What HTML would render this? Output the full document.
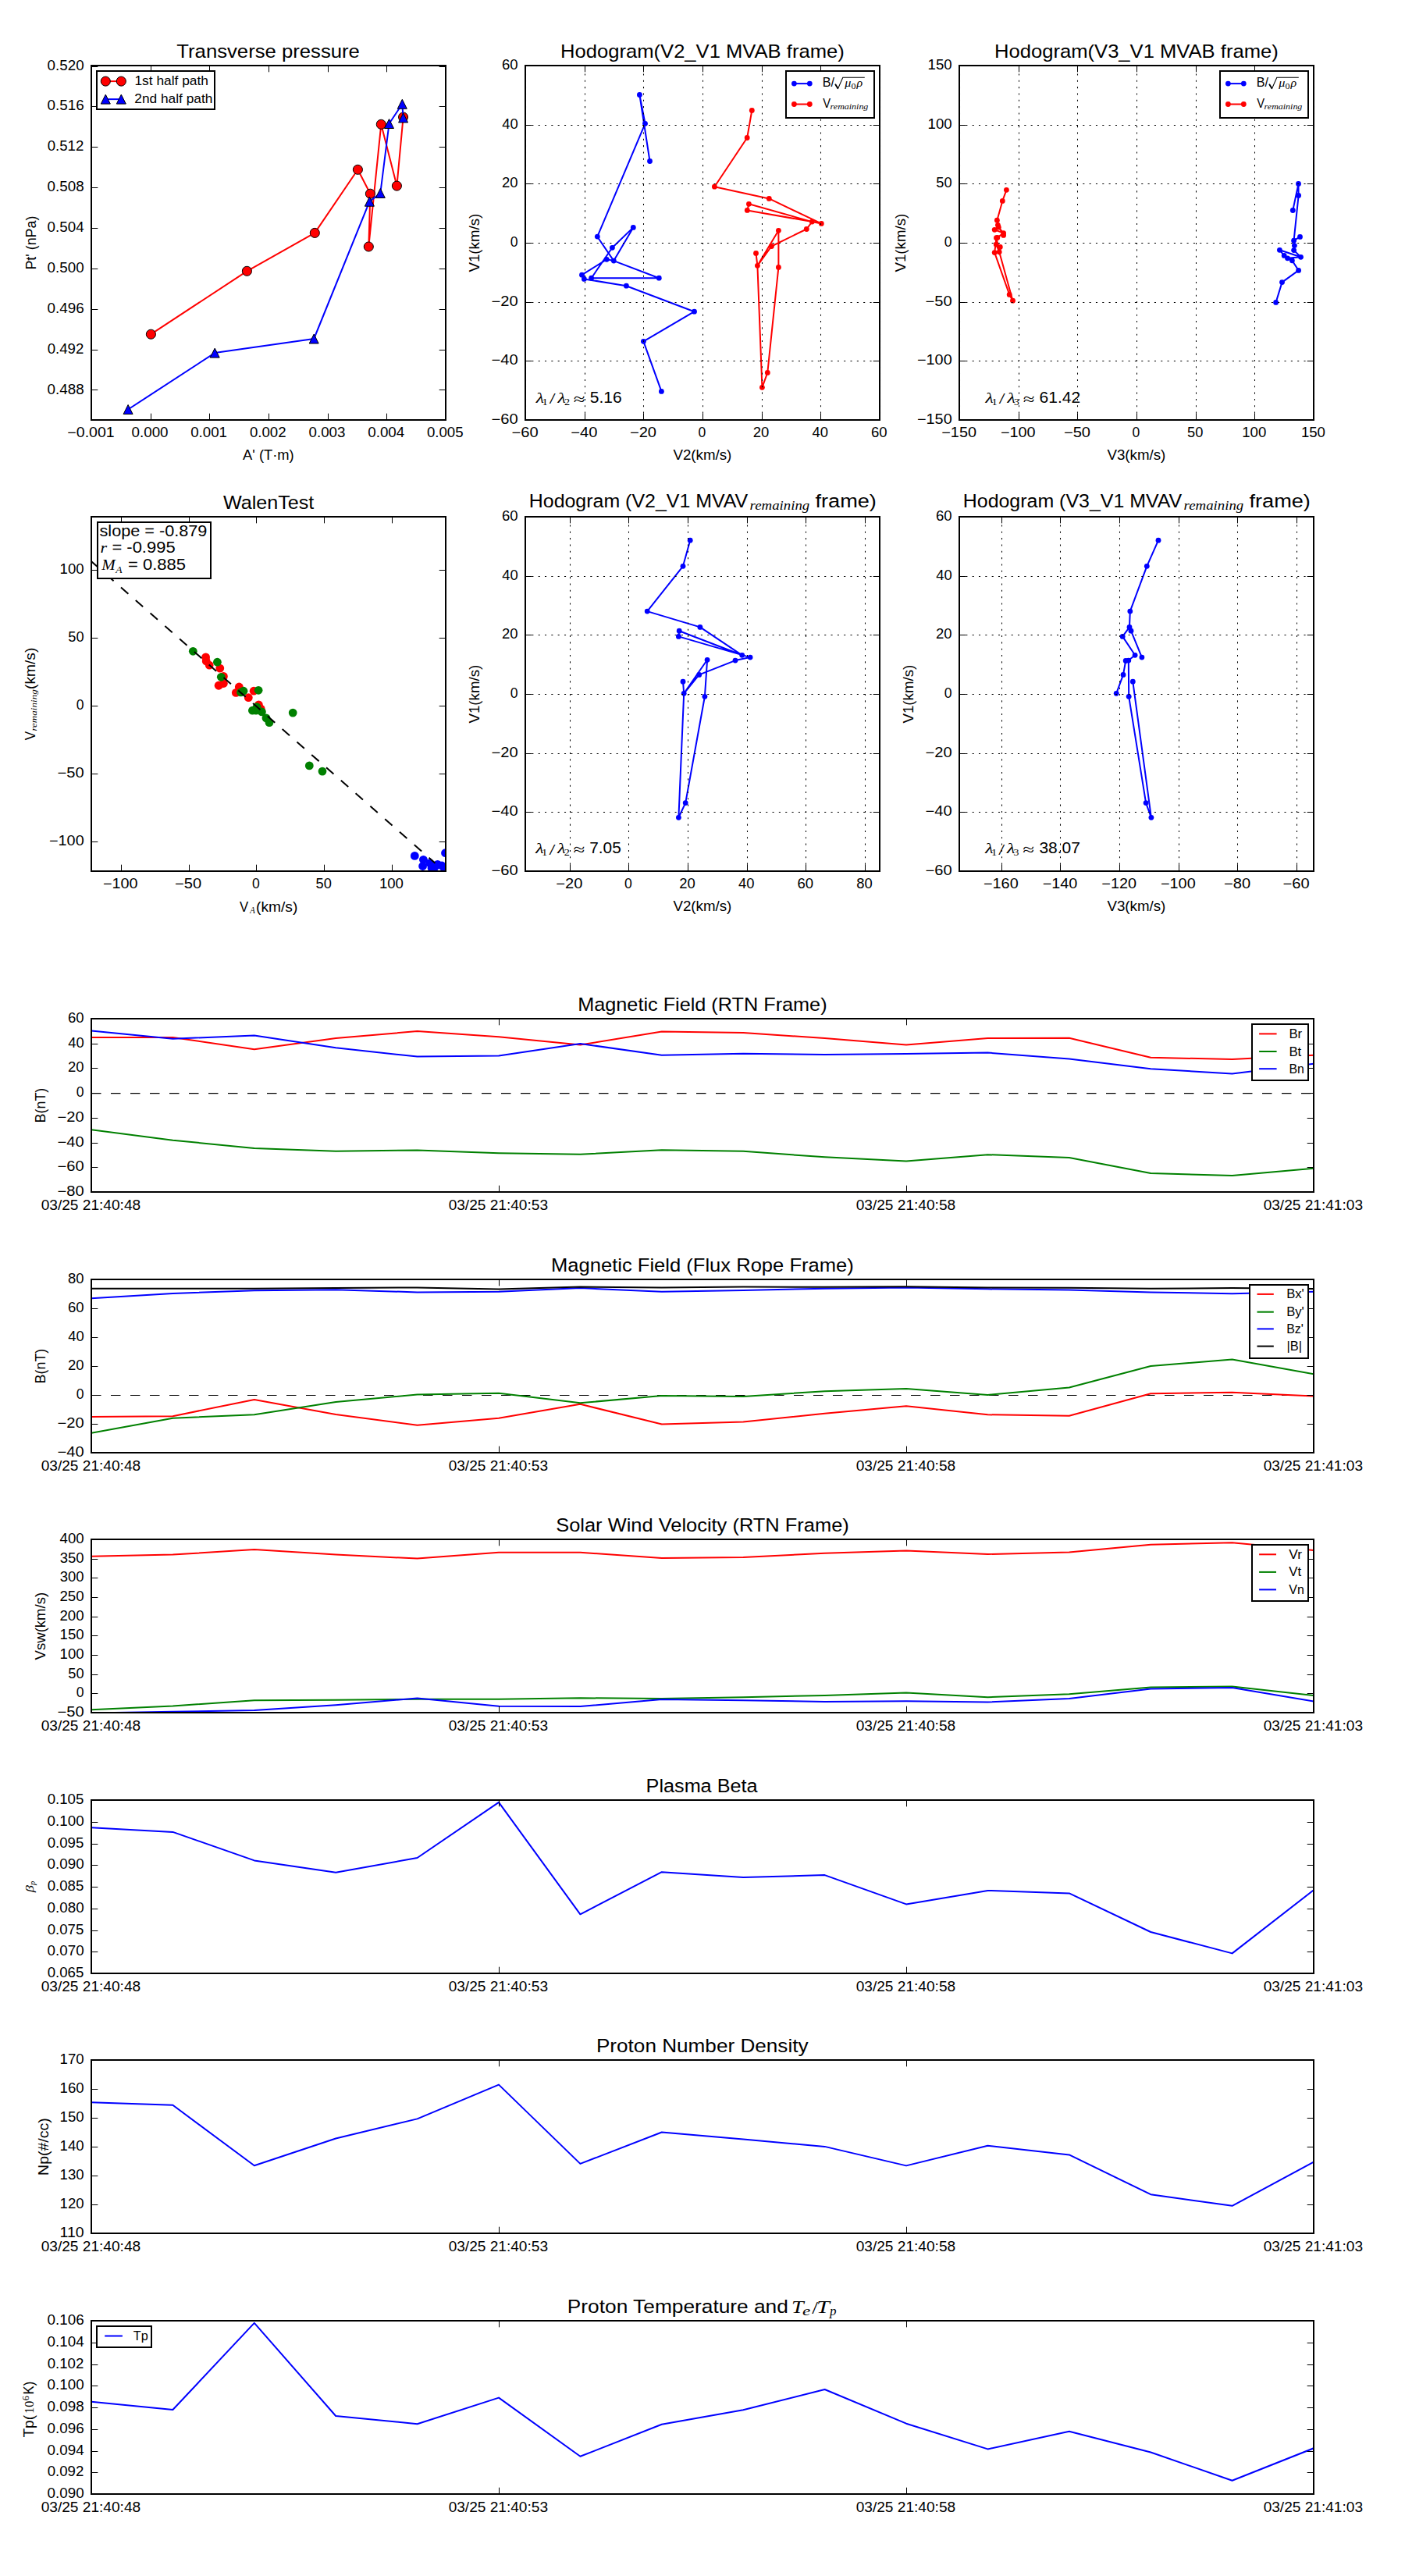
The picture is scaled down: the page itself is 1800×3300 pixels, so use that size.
<!DOCTYPE html><html><head><meta charset="utf-8"><title>MHD analysis figure</title><style>html,body{margin:0;padding:0;background:#fff;font-family:"Liberation Sans",sans-serif;}svg{display:block;}</style></head><body><svg xml:space="preserve" width="1800" height="3300" viewBox="0 0 1800 3300" font-family="Liberation Sans" fill="#000"><defs><clipPath id="c1"><rect x="117" y="84" width="454" height="454"/></clipPath><clipPath id="c2"><rect x="673" y="84" width="454" height="454"/></clipPath><clipPath id="c3"><rect x="1229" y="84" width="454" height="454"/></clipPath><clipPath id="c4"><rect x="117" y="662" width="454" height="454"/></clipPath><clipPath id="c5"><rect x="673" y="662" width="454" height="454"/></clipPath><clipPath id="c6"><rect x="1229" y="662" width="454" height="454"/></clipPath><clipPath id="c7"><rect x="117" y="1305" width="1566" height="222"/></clipPath><clipPath id="c8"><rect x="117" y="1639" width="1566" height="222"/></clipPath><clipPath id="c9"><rect x="117" y="1972" width="1566" height="222"/></clipPath><clipPath id="c10"><rect x="117" y="2306" width="1566" height="222"/></clipPath><clipPath id="c11"><rect x="117" y="2639" width="1566" height="222"/></clipPath><clipPath id="c12"><rect x="117" y="2973" width="1566" height="222"/></clipPath></defs><rect x="0" y="0" width="1800" height="3300" fill="#fff" stroke="none"/><polyline points="193.4,428.2 316.4,347.3 403.3,298.4 458.4,217.3 474.4,248.2 472.3,316 488.3,159.3 508.4,238.1 516.6,150" fill="none" stroke="#ff0000" stroke-width="2" stroke-linejoin="round" clip-path="url(#c1)"/>
<circle cx="193.4" cy="428.2" r="6.05" fill="#ff0000" stroke="#000000" stroke-width="1" clip-path="url(#c1)"/>
<circle cx="316.4" cy="347.3" r="6.05" fill="#ff0000" stroke="#000000" stroke-width="1" clip-path="url(#c1)"/>
<circle cx="403.3" cy="298.4" r="6.05" fill="#ff0000" stroke="#000000" stroke-width="1" clip-path="url(#c1)"/>
<circle cx="458.4" cy="217.3" r="6.05" fill="#ff0000" stroke="#000000" stroke-width="1" clip-path="url(#c1)"/>
<circle cx="474.4" cy="248.2" r="6.05" fill="#ff0000" stroke="#000000" stroke-width="1" clip-path="url(#c1)"/>
<circle cx="472.3" cy="316" r="6.05" fill="#ff0000" stroke="#000000" stroke-width="1" clip-path="url(#c1)"/>
<circle cx="488.3" cy="159.3" r="6.05" fill="#ff0000" stroke="#000000" stroke-width="1" clip-path="url(#c1)"/>
<circle cx="508.4" cy="238.1" r="6.05" fill="#ff0000" stroke="#000000" stroke-width="1" clip-path="url(#c1)"/>
<circle cx="516.6" cy="150" r="6.05" fill="#ff0000" stroke="#000000" stroke-width="1" clip-path="url(#c1)"/>
<polyline points="164.1,524.5 275.2,452.1 402.2,434 473.4,258.2 487.3,247.5 498.5,158.5 515.3,133.3 516.6,150.9" fill="none" stroke="#0000ff" stroke-width="2" stroke-linejoin="round" clip-path="url(#c1)"/>
<polygon points="164.1,518.5 158.1,530.5 170.1,530.5" fill="#0000ff" stroke="#000000" stroke-width="1" stroke-linejoin="miter" clip-path="url(#c1)"/>
<polygon points="275.2,446.1 269.2,458.1 281.2,458.1" fill="#0000ff" stroke="#000000" stroke-width="1" stroke-linejoin="miter" clip-path="url(#c1)"/>
<polygon points="402.2,428 396.2,440 408.2,440" fill="#0000ff" stroke="#000000" stroke-width="1" stroke-linejoin="miter" clip-path="url(#c1)"/>
<polygon points="473.4,252.2 467.4,264.2 479.4,264.2" fill="#0000ff" stroke="#000000" stroke-width="1" stroke-linejoin="miter" clip-path="url(#c1)"/>
<polygon points="487.3,241.5 481.3,253.5 493.3,253.5" fill="#0000ff" stroke="#000000" stroke-width="1" stroke-linejoin="miter" clip-path="url(#c1)"/>
<polygon points="498.5,152.5 492.5,164.5 504.5,164.5" fill="#0000ff" stroke="#000000" stroke-width="1" stroke-linejoin="miter" clip-path="url(#c1)"/>
<polygon points="515.3,127.3 509.3,139.3 521.3,139.3" fill="#0000ff" stroke="#000000" stroke-width="1" stroke-linejoin="miter" clip-path="url(#c1)"/>
<polygon points="516.6,144.9 510.6,156.9 522.6,156.9" fill="#0000ff" stroke="#000000" stroke-width="1" stroke-linejoin="miter" clip-path="url(#c1)"/>
<rect x="117" y="84" width="454" height="454" fill="none" stroke="#000" stroke-width="2"/>
<line x1="117.5" y1="538" x2="117.5" y2="529.67" stroke="#000" stroke-width="1.04"/>
<line x1="117.5" y1="84" x2="117.5" y2="92.33" stroke="#000" stroke-width="1.04"/>
<text x="86.36" y="560" font-size="17.5" textLength="60.3" lengthAdjust="spacingAndGlyphs">−0.001</text>
<line x1="193.5" y1="538" x2="193.5" y2="529.67" stroke="#000" stroke-width="1.04"/>
<line x1="193.5" y1="84" x2="193.5" y2="92.33" stroke="#000" stroke-width="1.04"/>
<text x="168.57" y="560" font-size="17.5" textLength="46.99" lengthAdjust="spacingAndGlyphs">0.000</text>
<line x1="268.5" y1="538" x2="268.5" y2="529.67" stroke="#000" stroke-width="1.04"/>
<line x1="268.5" y1="84" x2="268.5" y2="92.33" stroke="#000" stroke-width="1.04"/>
<text x="244.24" y="560" font-size="17.5" textLength="46.73" lengthAdjust="spacingAndGlyphs">0.001</text>
<line x1="344.5" y1="538" x2="344.5" y2="529.67" stroke="#000" stroke-width="1.04"/>
<line x1="344.5" y1="84" x2="344.5" y2="92.33" stroke="#000" stroke-width="1.04"/>
<text x="319.91" y="560" font-size="17.5" textLength="46.62" lengthAdjust="spacingAndGlyphs">0.002</text>
<line x1="420.5" y1="538" x2="420.5" y2="529.67" stroke="#000" stroke-width="1.04"/>
<line x1="420.5" y1="84" x2="420.5" y2="92.33" stroke="#000" stroke-width="1.04"/>
<text x="395.57" y="560" font-size="17.5" textLength="46.84" lengthAdjust="spacingAndGlyphs">0.003</text>
<line x1="495.5" y1="538" x2="495.5" y2="529.67" stroke="#000" stroke-width="1.04"/>
<line x1="495.5" y1="84" x2="495.5" y2="92.33" stroke="#000" stroke-width="1.04"/>
<text x="471.24" y="560" font-size="17.5" textLength="46.97" lengthAdjust="spacingAndGlyphs">0.004</text>
<line x1="571.5" y1="538" x2="571.5" y2="529.67" stroke="#000" stroke-width="1.04"/>
<line x1="571.5" y1="84" x2="571.5" y2="92.33" stroke="#000" stroke-width="1.04"/>
<text x="546.91" y="560" font-size="17.5" textLength="46.68" lengthAdjust="spacingAndGlyphs">0.005</text>
<line x1="117" y1="499.5" x2="125.33" y2="499.5" stroke="#000" stroke-width="1.04"/>
<line x1="571" y1="499.5" x2="562.67" y2="499.5" stroke="#000" stroke-width="1.04"/>
<text x="60.64" y="504.5" font-size="17.5" textLength="47.04" lengthAdjust="spacingAndGlyphs">0.488</text>
<line x1="117" y1="448.5" x2="125.33" y2="448.5" stroke="#000" stroke-width="1.04"/>
<line x1="571" y1="448.5" x2="562.67" y2="448.5" stroke="#000" stroke-width="1.04"/>
<text x="60.65" y="452.62" font-size="17.5" textLength="46.62" lengthAdjust="spacingAndGlyphs">0.492</text>
<line x1="117" y1="396.5" x2="125.33" y2="396.5" stroke="#000" stroke-width="1.04"/>
<line x1="571" y1="396.5" x2="562.67" y2="396.5" stroke="#000" stroke-width="1.04"/>
<text x="60.64" y="400.75" font-size="17.5" textLength="47.14" lengthAdjust="spacingAndGlyphs">0.496</text>
<line x1="117" y1="344.5" x2="125.33" y2="344.5" stroke="#000" stroke-width="1.04"/>
<line x1="571" y1="344.5" x2="562.67" y2="344.5" stroke="#000" stroke-width="1.04"/>
<text x="60.64" y="348.87" font-size="17.5" textLength="46.99" lengthAdjust="spacingAndGlyphs">0.500</text>
<line x1="117" y1="292.5" x2="125.33" y2="292.5" stroke="#000" stroke-width="1.04"/>
<line x1="571" y1="292.5" x2="562.67" y2="292.5" stroke="#000" stroke-width="1.04"/>
<text x="60.64" y="297" font-size="17.5" textLength="46.97" lengthAdjust="spacingAndGlyphs">0.504</text>
<line x1="117" y1="240.5" x2="125.33" y2="240.5" stroke="#000" stroke-width="1.04"/>
<line x1="571" y1="240.5" x2="562.67" y2="240.5" stroke="#000" stroke-width="1.04"/>
<text x="60.64" y="245.12" font-size="17.5" textLength="47.04" lengthAdjust="spacingAndGlyphs">0.508</text>
<line x1="117" y1="188.5" x2="125.33" y2="188.5" stroke="#000" stroke-width="1.04"/>
<line x1="571" y1="188.5" x2="562.67" y2="188.5" stroke="#000" stroke-width="1.04"/>
<text x="60.65" y="193.25" font-size="17.5" textLength="46.62" lengthAdjust="spacingAndGlyphs">0.512</text>
<line x1="117" y1="136.5" x2="125.33" y2="136.5" stroke="#000" stroke-width="1.04"/>
<line x1="571" y1="136.5" x2="562.67" y2="136.5" stroke="#000" stroke-width="1.04"/>
<text x="60.64" y="141.38" font-size="17.5" textLength="47.14" lengthAdjust="spacingAndGlyphs">0.516</text>
<line x1="117" y1="85.5" x2="125.33" y2="85.5" stroke="#000" stroke-width="1.04"/>
<line x1="571" y1="85.5" x2="562.67" y2="85.5" stroke="#000" stroke-width="1.04"/>
<text x="60.64" y="89.5" font-size="17.5" textLength="46.99" lengthAdjust="spacingAndGlyphs">0.520</text>
<rect x="124" y="91" width="151" height="49" fill="#fff" stroke="#000" stroke-width="2"/>
<line x1="135.3" y1="104.1" x2="155.3" y2="104.1" stroke="#ff0000" stroke-width="2"/>
<circle cx="135.3" cy="104.1" r="6.05" fill="#ff0000" stroke="#000000" stroke-width="1"/>
<circle cx="155.3" cy="104.1" r="6.05" fill="#ff0000" stroke="#000000" stroke-width="1"/>
<line x1="135.3" y1="127.1" x2="155.3" y2="127.1" stroke="#0000ff" stroke-width="2"/>
<polygon points="135.3,121.1 129.3,133.1 141.3,133.1" fill="#0000ff" stroke="#000" stroke-width="1" stroke-linejoin="miter"/>
<polygon points="155.3,121.1 149.3,133.1 161.3,133.1" fill="#0000ff" stroke="#000" stroke-width="1" stroke-linejoin="miter"/>
<text x="172.42" y="108.6" font-size="15.75" textLength="94.55" lengthAdjust="spacingAndGlyphs">1st half path</text>
<text x="172.33" y="131.6" font-size="15.75" textLength="99.98" lengthAdjust="spacingAndGlyphs">2nd half path</text>
<text x="226.3" y="73.5" font-size="24.5" textLength="234.62" lengthAdjust="spacingAndGlyphs">Transverse pressure</text>
<text x="311.09" y="588.8" font-size="17.5" textLength="65.63" lengthAdjust="spacingAndGlyphs">A' (T·m)</text>
<g transform="translate(45.78 311) rotate(-90)"><text x="-34.61" y="0" font-size="17.5" textLength="69.07" lengthAdjust="spacingAndGlyphs">Pt' (nPa)</text></g>
<polyline points="832.5,206.5 819.4,121.5 826.5,158.3 765.3,303.2 786.3,334.1 844.3,356.2 757.6,356.2 784.4,317.3 811.3,291.4 786.3,334.1 777.2,332.3 745.5,352.2 748.4,357.4 802.4,366.2 889.5,399.2 824.4,437.3 847.4,501.4" fill="none" stroke="#0000ff" stroke-width="2" stroke-linejoin="round" clip-path="url(#c2)"/>
<circle cx="819.4" cy="121.5" r="3.4" fill="#0000ff" clip-path="url(#c2)"/>
<circle cx="826.5" cy="158.3" r="3.4" fill="#0000ff" clip-path="url(#c2)"/>
<circle cx="832.5" cy="206.5" r="3.4" fill="#0000ff" clip-path="url(#c2)"/>
<circle cx="765.3" cy="303.2" r="3.4" fill="#0000ff" clip-path="url(#c2)"/>
<circle cx="811.3" cy="291.4" r="3.4" fill="#0000ff" clip-path="url(#c2)"/>
<circle cx="784.4" cy="317.3" r="3.4" fill="#0000ff" clip-path="url(#c2)"/>
<circle cx="777.2" cy="332.3" r="3.4" fill="#0000ff" clip-path="url(#c2)"/>
<circle cx="786.3" cy="334.1" r="3.4" fill="#0000ff" clip-path="url(#c2)"/>
<circle cx="745.5" cy="352.2" r="3.4" fill="#0000ff" clip-path="url(#c2)"/>
<circle cx="748.4" cy="357.4" r="3.4" fill="#0000ff" clip-path="url(#c2)"/>
<circle cx="757.6" cy="356.2" r="3.4" fill="#0000ff" clip-path="url(#c2)"/>
<circle cx="844.3" cy="356.2" r="3.4" fill="#0000ff" clip-path="url(#c2)"/>
<circle cx="802.4" cy="366.2" r="3.4" fill="#0000ff" clip-path="url(#c2)"/>
<circle cx="889.5" cy="399.2" r="3.4" fill="#0000ff" clip-path="url(#c2)"/>
<circle cx="824.4" cy="437.3" r="3.4" fill="#0000ff" clip-path="url(#c2)"/>
<circle cx="847.4" cy="501.4" r="3.4" fill="#0000ff" clip-path="url(#c2)"/>
<polyline points="963.3,141.5 957.2,176.5 915.4,239.2 985.3,254.4 1052.3,286.4 1040.4,284.1 959.4,261.3 957.3,269.4 1040.4,284.1 1033.3,293.5 988.4,315.5 970.4,340.3 997.4,295.3 997.4,342.4 983.3,477.4 976.4,496.3 970.4,340.3 968.5,324.4" fill="none" stroke="#ff0000" stroke-width="2" stroke-linejoin="round" clip-path="url(#c2)"/>
<circle cx="963.3" cy="141.5" r="3.4" fill="#ff0000" clip-path="url(#c2)"/>
<circle cx="957.2" cy="176.5" r="3.4" fill="#ff0000" clip-path="url(#c2)"/>
<circle cx="915.4" cy="239.2" r="3.4" fill="#ff0000" clip-path="url(#c2)"/>
<circle cx="985.3" cy="254.4" r="3.4" fill="#ff0000" clip-path="url(#c2)"/>
<circle cx="959.4" cy="261.3" r="3.4" fill="#ff0000" clip-path="url(#c2)"/>
<circle cx="957.3" cy="269.4" r="3.4" fill="#ff0000" clip-path="url(#c2)"/>
<circle cx="1040.4" cy="284.1" r="3.4" fill="#ff0000" clip-path="url(#c2)"/>
<circle cx="1052.3" cy="286.4" r="3.4" fill="#ff0000" clip-path="url(#c2)"/>
<circle cx="1033.3" cy="293.5" r="3.4" fill="#ff0000" clip-path="url(#c2)"/>
<circle cx="997.4" cy="295.3" r="3.4" fill="#ff0000" clip-path="url(#c2)"/>
<circle cx="988.4" cy="315.5" r="3.4" fill="#ff0000" clip-path="url(#c2)"/>
<circle cx="968.5" cy="324.4" r="3.4" fill="#ff0000" clip-path="url(#c2)"/>
<circle cx="970.4" cy="340.3" r="3.4" fill="#ff0000" clip-path="url(#c2)"/>
<circle cx="997.4" cy="342.4" r="3.4" fill="#ff0000" clip-path="url(#c2)"/>
<circle cx="983.3" cy="477.4" r="3.4" fill="#ff0000" clip-path="url(#c2)"/>
<circle cx="976.4" cy="496.3" r="3.4" fill="#ff0000" clip-path="url(#c2)"/>
<line x1="673.5" y1="538" x2="673.5" y2="84" stroke="#000" stroke-width="1.04" stroke-dasharray="2.08 6.25"/>
<line x1="673.5" y1="538" x2="673.5" y2="529.67" stroke="#000" stroke-width="1.04"/>
<line x1="673.5" y1="84" x2="673.5" y2="92.33" stroke="#000" stroke-width="1.04"/>
<text x="655.58" y="560" font-size="17.5" textLength="34.09" lengthAdjust="spacingAndGlyphs">−60</text>
<line x1="749.5" y1="538" x2="749.5" y2="84" stroke="#000" stroke-width="1.04" stroke-dasharray="2.08 6.25"/>
<line x1="749.5" y1="538" x2="749.5" y2="529.67" stroke="#000" stroke-width="1.04"/>
<line x1="749.5" y1="84" x2="749.5" y2="92.33" stroke="#000" stroke-width="1.04"/>
<text x="731.25" y="560" font-size="17.5" textLength="34.09" lengthAdjust="spacingAndGlyphs">−40</text>
<line x1="824.5" y1="538" x2="824.5" y2="84" stroke="#000" stroke-width="1.04" stroke-dasharray="2.08 6.25"/>
<line x1="824.5" y1="538" x2="824.5" y2="529.67" stroke="#000" stroke-width="1.04"/>
<line x1="824.5" y1="84" x2="824.5" y2="92.33" stroke="#000" stroke-width="1.04"/>
<text x="806.92" y="560" font-size="17.5" textLength="34.09" lengthAdjust="spacingAndGlyphs">−20</text>
<line x1="900.5" y1="538" x2="900.5" y2="84" stroke="#000" stroke-width="1.04" stroke-dasharray="2.08 6.25"/>
<line x1="900.5" y1="538" x2="900.5" y2="529.67" stroke="#000" stroke-width="1.04"/>
<line x1="900.5" y1="84" x2="900.5" y2="92.33" stroke="#000" stroke-width="1.04"/>
<text x="894.51" y="560" font-size="17.5" textLength="9.77" lengthAdjust="spacingAndGlyphs">0</text>
<line x1="976.5" y1="538" x2="976.5" y2="84" stroke="#000" stroke-width="1.04" stroke-dasharray="2.08 6.25"/>
<line x1="976.5" y1="538" x2="976.5" y2="529.67" stroke="#000" stroke-width="1.04"/>
<line x1="976.5" y1="84" x2="976.5" y2="92.33" stroke="#000" stroke-width="1.04"/>
<text x="964.75" y="560" font-size="17.5" textLength="20.53" lengthAdjust="spacingAndGlyphs">20</text>
<line x1="1051.5" y1="538" x2="1051.5" y2="84" stroke="#000" stroke-width="1.04" stroke-dasharray="2.08 6.25"/>
<line x1="1051.5" y1="538" x2="1051.5" y2="529.67" stroke="#000" stroke-width="1.04"/>
<line x1="1051.5" y1="84" x2="1051.5" y2="92.33" stroke="#000" stroke-width="1.04"/>
<text x="1040.52" y="560" font-size="17.5" textLength="20.43" lengthAdjust="spacingAndGlyphs">40</text>
<line x1="1127.5" y1="538" x2="1127.5" y2="84" stroke="#000" stroke-width="1.04" stroke-dasharray="2.08 6.25"/>
<line x1="1127.5" y1="538" x2="1127.5" y2="529.67" stroke="#000" stroke-width="1.04"/>
<line x1="1127.5" y1="84" x2="1127.5" y2="92.33" stroke="#000" stroke-width="1.04"/>
<text x="1116.02" y="560" font-size="17.5" textLength="20.61" lengthAdjust="spacingAndGlyphs">60</text>
<line x1="673" y1="538.5" x2="1127" y2="538.5" stroke="#000" stroke-width="1.04" stroke-dasharray="2.08 6.25"/>
<line x1="673" y1="538.5" x2="681.33" y2="538.5" stroke="#000" stroke-width="1.04"/>
<line x1="1127" y1="538.5" x2="1118.67" y2="538.5" stroke="#000" stroke-width="1.04"/>
<text x="629.59" y="543" font-size="17.5" textLength="34.09" lengthAdjust="spacingAndGlyphs">−60</text>
<line x1="673" y1="462.5" x2="1127" y2="462.5" stroke="#000" stroke-width="1.04" stroke-dasharray="2.08 6.25"/>
<line x1="673" y1="462.5" x2="681.33" y2="462.5" stroke="#000" stroke-width="1.04"/>
<line x1="1127" y1="462.5" x2="1118.67" y2="462.5" stroke="#000" stroke-width="1.04"/>
<text x="629.59" y="467.33" font-size="17.5" textLength="34.09" lengthAdjust="spacingAndGlyphs">−40</text>
<line x1="673" y1="387.5" x2="1127" y2="387.5" stroke="#000" stroke-width="1.04" stroke-dasharray="2.08 6.25"/>
<line x1="673" y1="387.5" x2="681.33" y2="387.5" stroke="#000" stroke-width="1.04"/>
<line x1="1127" y1="387.5" x2="1118.67" y2="387.5" stroke="#000" stroke-width="1.04"/>
<text x="629.59" y="391.67" font-size="17.5" textLength="34.09" lengthAdjust="spacingAndGlyphs">−20</text>
<line x1="673" y1="311.5" x2="1127" y2="311.5" stroke="#000" stroke-width="1.04" stroke-dasharray="2.08 6.25"/>
<line x1="673" y1="311.5" x2="681.33" y2="311.5" stroke="#000" stroke-width="1.04"/>
<line x1="1127" y1="311.5" x2="1118.67" y2="311.5" stroke="#000" stroke-width="1.04"/>
<text x="653.81" y="316" font-size="17.5" textLength="9.77" lengthAdjust="spacingAndGlyphs">0</text>
<line x1="673" y1="235.5" x2="1127" y2="235.5" stroke="#000" stroke-width="1.04" stroke-dasharray="2.08 6.25"/>
<line x1="673" y1="235.5" x2="681.33" y2="235.5" stroke="#000" stroke-width="1.04"/>
<line x1="1127" y1="235.5" x2="1118.67" y2="235.5" stroke="#000" stroke-width="1.04"/>
<text x="643.08" y="240.33" font-size="17.5" textLength="20.53" lengthAdjust="spacingAndGlyphs">20</text>
<line x1="673" y1="160.5" x2="1127" y2="160.5" stroke="#000" stroke-width="1.04" stroke-dasharray="2.08 6.25"/>
<line x1="673" y1="160.5" x2="681.33" y2="160.5" stroke="#000" stroke-width="1.04"/>
<line x1="1127" y1="160.5" x2="1118.67" y2="160.5" stroke="#000" stroke-width="1.04"/>
<text x="643.18" y="164.67" font-size="17.5" textLength="20.43" lengthAdjust="spacingAndGlyphs">40</text>
<line x1="673" y1="84.5" x2="1127" y2="84.5" stroke="#000" stroke-width="1.04" stroke-dasharray="2.08 6.25"/>
<line x1="673" y1="84.5" x2="681.33" y2="84.5" stroke="#000" stroke-width="1.04"/>
<line x1="1127" y1="84.5" x2="1118.67" y2="84.5" stroke="#000" stroke-width="1.04"/>
<text x="643.01" y="89" font-size="17.5" textLength="20.61" lengthAdjust="spacingAndGlyphs">60</text>
<rect x="673" y="84" width="454" height="454" fill="none" stroke="#000" stroke-width="2"/>
<rect x="1007" y="91" width="113" height="60" fill="#fff" stroke="#000" stroke-width="2"/>
<line x1="1017.4" y1="107.1" x2="1037.3" y2="107.1" stroke="#0000ff" stroke-width="2"/>
<circle cx="1017.4" cy="107.1" r="3.4" fill="#0000ff"/>
<circle cx="1037.3" cy="107.1" r="3.4" fill="#0000ff"/>
<line x1="1017.4" y1="133.5" x2="1037.3" y2="133.5" stroke="#ff0000" stroke-width="2"/>
<circle cx="1017.4" cy="133.5" r="3.4" fill="#ff0000"/>
<circle cx="1037.3" cy="133.5" r="3.4" fill="#ff0000"/>
<text x="1053.78" y="111" font-size="15.75" textLength="15.22" lengthAdjust="spacingAndGlyphs">B/</text>
<path d="M1069.9 107.6 L1073.6 113.4 L1079.8 99.2 L1107.8 99.2" fill="none" stroke="#000" stroke-width="1.1" stroke-linejoin="miter"/>
<line x1="1070.2" y1="108" x2="1073.6" y2="113.4" stroke="#000000" stroke-width="1.8"/>
<text x="1082.22" y="110.7" font-size="15.5" textLength="8.12" lengthAdjust="spacingAndGlyphs" font-family="Liberation Serif" font-style="italic">μ</text>
<text x="1090.44" y="113.7" font-size="11" textLength="6.02" lengthAdjust="spacingAndGlyphs" font-family="Liberation Serif">0</text>
<text x="1097.41" y="110.7" font-size="15.5" textLength="7.68" lengthAdjust="spacingAndGlyphs" font-family="Liberation Serif" font-style="italic">ρ</text>
<text x="1054.14" y="137.8" font-size="15.75" textLength="9.83" lengthAdjust="spacingAndGlyphs">V</text>
<text x="1063.62" y="139.9" font-size="11" textLength="48.74" lengthAdjust="spacingAndGlyphs" font-family="Liberation Serif" font-style="italic">remaining</text>
<text x="718" y="73.5" font-size="24.5" textLength="363.76" lengthAdjust="spacingAndGlyphs">Hodogram(V2_V1 MVAB frame)</text>
<text x="862.44" y="588.8" font-size="17.5" textLength="74.89" lengthAdjust="spacingAndGlyphs">V2(km/s)</text>
<g transform="translate(614.32 311) rotate(-90)"><text x="-37.56" y="0" font-size="17.5" textLength="74.89" lengthAdjust="spacingAndGlyphs">V1(km/s)</text></g>
<text x="686.67" y="515.9" font-size="19" textLength="10.21" lengthAdjust="spacingAndGlyphs" font-family="Liberation Serif" font-style="italic">λ</text>
<text x="694.53" y="518.7" font-size="13" textLength="7.24" lengthAdjust="spacingAndGlyphs" font-family="Liberation Serif">1</text>
<text x="703.8" y="517.4" font-size="19" textLength="7.9" lengthAdjust="spacingAndGlyphs" font-family="Liberation Serif">/</text>
<text x="714.58" y="515.9" font-size="19" textLength="10.31" lengthAdjust="spacingAndGlyphs" font-family="Liberation Serif" font-style="italic">λ</text>
<text x="723.08" y="518.7" font-size="13" textLength="7.11" lengthAdjust="spacingAndGlyphs" font-family="Liberation Serif">2</text>
<text x="734.85" y="517.6" font-size="20" textLength="14.84" lengthAdjust="spacingAndGlyphs" font-family="Liberation Serif">≈</text>
<text x="755.86" y="515.9" font-size="19.69" textLength="40.88" lengthAdjust="spacingAndGlyphs">5.16</text>
<polyline points="1289.4,243.3 1284.3,257.4 1277.4,282.2 1278.4,288.3 1285.6,301.4 1285.6,298.6 1279.3,291.2 1274.2,294.3 1285.6,298.6 1277.8,304.4 1276.3,313.2 1280.2,322.8 1276.5,304.7 1274.2,323.6 1293.2,377.4 1297.5,385.2 1280.2,322.8 1281.3,316.5" fill="none" stroke="#ff0000" stroke-width="2" stroke-linejoin="round" clip-path="url(#c3)"/>
<circle cx="1289.4" cy="243.3" r="3.4" fill="#ff0000" clip-path="url(#c3)"/>
<circle cx="1284.3" cy="257.4" r="3.4" fill="#ff0000" clip-path="url(#c3)"/>
<circle cx="1277.4" cy="282.2" r="3.4" fill="#ff0000" clip-path="url(#c3)"/>
<circle cx="1278.4" cy="288.3" r="3.4" fill="#ff0000" clip-path="url(#c3)"/>
<circle cx="1279.3" cy="291.2" r="3.4" fill="#ff0000" clip-path="url(#c3)"/>
<circle cx="1274.2" cy="294.3" r="3.4" fill="#ff0000" clip-path="url(#c3)"/>
<circle cx="1285.6" cy="298.6" r="3.4" fill="#ff0000" clip-path="url(#c3)"/>
<circle cx="1285.6" cy="301.4" r="3.4" fill="#ff0000" clip-path="url(#c3)"/>
<circle cx="1277.8" cy="304.4" r="3.4" fill="#ff0000" clip-path="url(#c3)"/>
<circle cx="1276.5" cy="304.7" r="3.4" fill="#ff0000" clip-path="url(#c3)"/>
<circle cx="1276.3" cy="313.2" r="3.4" fill="#ff0000" clip-path="url(#c3)"/>
<circle cx="1281.3" cy="316.5" r="3.4" fill="#ff0000" clip-path="url(#c3)"/>
<circle cx="1280.2" cy="322.8" r="3.4" fill="#ff0000" clip-path="url(#c3)"/>
<circle cx="1274.2" cy="323.6" r="3.4" fill="#ff0000" clip-path="url(#c3)"/>
<circle cx="1293.2" cy="377.4" r="3.4" fill="#ff0000" clip-path="url(#c3)"/>
<circle cx="1297.5" cy="385.2" r="3.4" fill="#ff0000" clip-path="url(#c3)"/>
<polyline points="1656.3,269.5 1663.5,235.4 1663.6,250.5 1657.6,308.2 1665.5,303.4" fill="none" stroke="#0000ff" stroke-width="2" stroke-linejoin="round" clip-path="url(#c3)"/>
<polyline points="1657.6,308.2 1658.4,314.6 1657.6,320.6 1666.5,329.3 1639.4,320.3 1645.2,327.4 1649.5,330.8 1655.4,333.8 1663.6,346.4 1642.5,361.6 1634.6,387.4" fill="none" stroke="#0000ff" stroke-width="2" stroke-linejoin="round" clip-path="url(#c3)"/>
<polyline points="1649.5,330.8 1666.5,329.3" fill="none" stroke="#0000ff" stroke-width="2" stroke-linejoin="round" clip-path="url(#c3)"/>
<circle cx="1663.5" cy="235.4" r="3.4" fill="#0000ff" clip-path="url(#c3)"/>
<circle cx="1663.6" cy="250.5" r="3.4" fill="#0000ff" clip-path="url(#c3)"/>
<circle cx="1656.3" cy="269.5" r="3.4" fill="#0000ff" clip-path="url(#c3)"/>
<circle cx="1657.6" cy="308.2" r="3.4" fill="#0000ff" clip-path="url(#c3)"/>
<circle cx="1665.5" cy="303.4" r="3.4" fill="#0000ff" clip-path="url(#c3)"/>
<circle cx="1658.4" cy="314.6" r="3.4" fill="#0000ff" clip-path="url(#c3)"/>
<circle cx="1657.6" cy="320.6" r="3.4" fill="#0000ff" clip-path="url(#c3)"/>
<circle cx="1639.4" cy="320.3" r="3.4" fill="#0000ff" clip-path="url(#c3)"/>
<circle cx="1666.5" cy="329.3" r="3.4" fill="#0000ff" clip-path="url(#c3)"/>
<circle cx="1645.2" cy="327.4" r="3.4" fill="#0000ff" clip-path="url(#c3)"/>
<circle cx="1649.5" cy="330.8" r="3.4" fill="#0000ff" clip-path="url(#c3)"/>
<circle cx="1655.4" cy="333.8" r="3.4" fill="#0000ff" clip-path="url(#c3)"/>
<circle cx="1663.6" cy="346.4" r="3.4" fill="#0000ff" clip-path="url(#c3)"/>
<circle cx="1642.5" cy="361.6" r="3.4" fill="#0000ff" clip-path="url(#c3)"/>
<circle cx="1634.6" cy="387.4" r="3.4" fill="#0000ff" clip-path="url(#c3)"/>
<line x1="1229.5" y1="538" x2="1229.5" y2="84" stroke="#000" stroke-width="1.04" stroke-dasharray="2.08 6.25"/>
<line x1="1229.5" y1="538" x2="1229.5" y2="529.67" stroke="#000" stroke-width="1.04"/>
<line x1="1229.5" y1="84" x2="1229.5" y2="92.33" stroke="#000" stroke-width="1.04"/>
<text x="1206.29" y="560" font-size="17.5" textLength="44.67" lengthAdjust="spacingAndGlyphs">−150</text>
<line x1="1305.5" y1="538" x2="1305.5" y2="84" stroke="#000" stroke-width="1.04" stroke-dasharray="2.08 6.25"/>
<line x1="1305.5" y1="538" x2="1305.5" y2="529.67" stroke="#000" stroke-width="1.04"/>
<line x1="1305.5" y1="84" x2="1305.5" y2="92.33" stroke="#000" stroke-width="1.04"/>
<text x="1281.96" y="560" font-size="17.5" textLength="44.67" lengthAdjust="spacingAndGlyphs">−100</text>
<line x1="1380.5" y1="538" x2="1380.5" y2="84" stroke="#000" stroke-width="1.04" stroke-dasharray="2.08 6.25"/>
<line x1="1380.5" y1="538" x2="1380.5" y2="529.67" stroke="#000" stroke-width="1.04"/>
<line x1="1380.5" y1="84" x2="1380.5" y2="92.33" stroke="#000" stroke-width="1.04"/>
<text x="1362.92" y="560" font-size="17.5" textLength="34.09" lengthAdjust="spacingAndGlyphs">−50</text>
<line x1="1456.5" y1="538" x2="1456.5" y2="84" stroke="#000" stroke-width="1.04" stroke-dasharray="2.08 6.25"/>
<line x1="1456.5" y1="538" x2="1456.5" y2="529.67" stroke="#000" stroke-width="1.04"/>
<line x1="1456.5" y1="84" x2="1456.5" y2="92.33" stroke="#000" stroke-width="1.04"/>
<text x="1450.51" y="560" font-size="17.5" textLength="9.77" lengthAdjust="spacingAndGlyphs">0</text>
<line x1="1532.5" y1="538" x2="1532.5" y2="84" stroke="#000" stroke-width="1.04" stroke-dasharray="2.08 6.25"/>
<line x1="1532.5" y1="538" x2="1532.5" y2="529.67" stroke="#000" stroke-width="1.04"/>
<line x1="1532.5" y1="84" x2="1532.5" y2="92.33" stroke="#000" stroke-width="1.04"/>
<text x="1521.02" y="560" font-size="17.5" textLength="20.26" lengthAdjust="spacingAndGlyphs">50</text>
<line x1="1607.5" y1="538" x2="1607.5" y2="84" stroke="#000" stroke-width="1.04" stroke-dasharray="2.08 6.25"/>
<line x1="1607.5" y1="538" x2="1607.5" y2="529.67" stroke="#000" stroke-width="1.04"/>
<line x1="1607.5" y1="84" x2="1607.5" y2="92.33" stroke="#000" stroke-width="1.04"/>
<text x="1591.24" y="560" font-size="17.5" textLength="31.03" lengthAdjust="spacingAndGlyphs">100</text>
<line x1="1683.5" y1="538" x2="1683.5" y2="84" stroke="#000" stroke-width="1.04" stroke-dasharray="2.08 6.25"/>
<line x1="1683.5" y1="538" x2="1683.5" y2="529.67" stroke="#000" stroke-width="1.04"/>
<line x1="1683.5" y1="84" x2="1683.5" y2="92.33" stroke="#000" stroke-width="1.04"/>
<text x="1666.9" y="560" font-size="17.5" textLength="31.03" lengthAdjust="spacingAndGlyphs">150</text>
<line x1="1229" y1="538.5" x2="1683" y2="538.5" stroke="#000" stroke-width="1.04" stroke-dasharray="2.08 6.25"/>
<line x1="1229" y1="538.5" x2="1237.33" y2="538.5" stroke="#000" stroke-width="1.04"/>
<line x1="1683" y1="538.5" x2="1674.67" y2="538.5" stroke="#000" stroke-width="1.04"/>
<text x="1175" y="543" font-size="17.5" textLength="44.67" lengthAdjust="spacingAndGlyphs">−150</text>
<line x1="1229" y1="462.5" x2="1683" y2="462.5" stroke="#000" stroke-width="1.04" stroke-dasharray="2.08 6.25"/>
<line x1="1229" y1="462.5" x2="1237.33" y2="462.5" stroke="#000" stroke-width="1.04"/>
<line x1="1683" y1="462.5" x2="1674.67" y2="462.5" stroke="#000" stroke-width="1.04"/>
<text x="1175" y="467.33" font-size="17.5" textLength="44.67" lengthAdjust="spacingAndGlyphs">−100</text>
<line x1="1229" y1="387.5" x2="1683" y2="387.5" stroke="#000" stroke-width="1.04" stroke-dasharray="2.08 6.25"/>
<line x1="1229" y1="387.5" x2="1237.33" y2="387.5" stroke="#000" stroke-width="1.04"/>
<line x1="1683" y1="387.5" x2="1674.67" y2="387.5" stroke="#000" stroke-width="1.04"/>
<text x="1185.59" y="391.67" font-size="17.5" textLength="34.09" lengthAdjust="spacingAndGlyphs">−50</text>
<line x1="1229" y1="311.5" x2="1683" y2="311.5" stroke="#000" stroke-width="1.04" stroke-dasharray="2.08 6.25"/>
<line x1="1229" y1="311.5" x2="1237.33" y2="311.5" stroke="#000" stroke-width="1.04"/>
<line x1="1683" y1="311.5" x2="1674.67" y2="311.5" stroke="#000" stroke-width="1.04"/>
<text x="1209.81" y="316" font-size="17.5" textLength="9.77" lengthAdjust="spacingAndGlyphs">0</text>
<line x1="1229" y1="235.5" x2="1683" y2="235.5" stroke="#000" stroke-width="1.04" stroke-dasharray="2.08 6.25"/>
<line x1="1229" y1="235.5" x2="1237.33" y2="235.5" stroke="#000" stroke-width="1.04"/>
<line x1="1683" y1="235.5" x2="1674.67" y2="235.5" stroke="#000" stroke-width="1.04"/>
<text x="1199.35" y="240.33" font-size="17.5" textLength="20.26" lengthAdjust="spacingAndGlyphs">50</text>
<line x1="1229" y1="160.5" x2="1683" y2="160.5" stroke="#000" stroke-width="1.04" stroke-dasharray="2.08 6.25"/>
<line x1="1229" y1="160.5" x2="1237.33" y2="160.5" stroke="#000" stroke-width="1.04"/>
<line x1="1683" y1="160.5" x2="1674.67" y2="160.5" stroke="#000" stroke-width="1.04"/>
<text x="1188.6" y="164.67" font-size="17.5" textLength="31.03" lengthAdjust="spacingAndGlyphs">100</text>
<line x1="1229" y1="84.5" x2="1683" y2="84.5" stroke="#000" stroke-width="1.04" stroke-dasharray="2.08 6.25"/>
<line x1="1229" y1="84.5" x2="1237.33" y2="84.5" stroke="#000" stroke-width="1.04"/>
<line x1="1683" y1="84.5" x2="1674.67" y2="84.5" stroke="#000" stroke-width="1.04"/>
<text x="1188.6" y="89" font-size="17.5" textLength="31.03" lengthAdjust="spacingAndGlyphs">150</text>
<rect x="1229" y="84" width="454" height="454" fill="none" stroke="#000" stroke-width="2"/>
<rect x="1563" y="91" width="113" height="60" fill="#fff" stroke="#000" stroke-width="2"/>
<line x1="1573.4" y1="107.1" x2="1593.3" y2="107.1" stroke="#0000ff" stroke-width="2"/>
<circle cx="1573.4" cy="107.1" r="3.4" fill="#0000ff"/>
<circle cx="1593.3" cy="107.1" r="3.4" fill="#0000ff"/>
<line x1="1573.4" y1="133.5" x2="1593.3" y2="133.5" stroke="#ff0000" stroke-width="2"/>
<circle cx="1573.4" cy="133.5" r="3.4" fill="#ff0000"/>
<circle cx="1593.3" cy="133.5" r="3.4" fill="#ff0000"/>
<text x="1609.78" y="111" font-size="15.75" textLength="15.22" lengthAdjust="spacingAndGlyphs">B/</text>
<path d="M1625.9 107.6 L1629.6 113.4 L1635.8 99.2 L1663.8 99.2" fill="none" stroke="#000" stroke-width="1.1" stroke-linejoin="miter"/>
<line x1="1626.2" y1="108" x2="1629.6" y2="113.4" stroke="#000000" stroke-width="1.8"/>
<text x="1638.22" y="110.7" font-size="15.5" textLength="8.12" lengthAdjust="spacingAndGlyphs" font-family="Liberation Serif" font-style="italic">μ</text>
<text x="1646.44" y="113.7" font-size="11" textLength="6.02" lengthAdjust="spacingAndGlyphs" font-family="Liberation Serif">0</text>
<text x="1653.41" y="110.7" font-size="15.5" textLength="7.68" lengthAdjust="spacingAndGlyphs" font-family="Liberation Serif" font-style="italic">ρ</text>
<text x="1610.14" y="137.8" font-size="15.75" textLength="9.83" lengthAdjust="spacingAndGlyphs">V</text>
<text x="1619.62" y="139.9" font-size="11" textLength="48.74" lengthAdjust="spacingAndGlyphs" font-family="Liberation Serif" font-style="italic">remaining</text>
<text x="1274" y="73.5" font-size="24.5" textLength="363.76" lengthAdjust="spacingAndGlyphs">Hodogram(V3_V1 MVAB frame)</text>
<text x="1418.44" y="588.8" font-size="17.5" textLength="74.89" lengthAdjust="spacingAndGlyphs">V3(km/s)</text>
<g transform="translate(1159.71 311) rotate(-90)"><text x="-37.56" y="0" font-size="17.5" textLength="74.89" lengthAdjust="spacingAndGlyphs">V1(km/s)</text></g>
<text x="1262.57" y="515.9" font-size="19" textLength="10.21" lengthAdjust="spacingAndGlyphs" font-family="Liberation Serif" font-style="italic">λ</text>
<text x="1270.43" y="518.7" font-size="13" textLength="7.24" lengthAdjust="spacingAndGlyphs" font-family="Liberation Serif">1</text>
<text x="1279.7" y="517.4" font-size="19" textLength="7.9" lengthAdjust="spacingAndGlyphs" font-family="Liberation Serif">/</text>
<text x="1290.48" y="515.9" font-size="19" textLength="10.31" lengthAdjust="spacingAndGlyphs" font-family="Liberation Serif" font-style="italic">λ</text>
<text x="1298.94" y="518.7" font-size="13" textLength="6.9" lengthAdjust="spacingAndGlyphs" font-family="Liberation Serif">3</text>
<text x="1310.75" y="517.6" font-size="20" textLength="14.84" lengthAdjust="spacingAndGlyphs" font-family="Liberation Serif">≈</text>
<text x="1331.53" y="515.9" font-size="19.69" textLength="52.61" lengthAdjust="spacingAndGlyphs">61.42</text>
<circle cx="263.6" cy="841.9" r="5.4" fill="#ff0000" clip-path="url(#c4)"/>
<circle cx="264.2" cy="847" r="5.4" fill="#ff0000" clip-path="url(#c4)"/>
<circle cx="268.2" cy="852.1" r="5.4" fill="#ff0000" clip-path="url(#c4)"/>
<circle cx="281.8" cy="856.1" r="5.4" fill="#ff0000" clip-path="url(#c4)"/>
<circle cx="286.4" cy="866.4" r="5.4" fill="#ff0000" clip-path="url(#c4)"/>
<circle cx="280.7" cy="877.8" r="5.4" fill="#ff0000" clip-path="url(#c4)"/>
<circle cx="286.4" cy="875.5" r="5.4" fill="#ff0000" clip-path="url(#c4)"/>
<circle cx="280.1" cy="878.3" r="5.4" fill="#ff0000" clip-path="url(#c4)"/>
<circle cx="306.3" cy="880" r="5.4" fill="#ff0000" clip-path="url(#c4)"/>
<circle cx="302.3" cy="887.4" r="5.4" fill="#ff0000" clip-path="url(#c4)"/>
<circle cx="318.3" cy="893.7" r="5.4" fill="#ff0000" clip-path="url(#c4)"/>
<circle cx="325.1" cy="885.2" r="5.4" fill="#ff0000" clip-path="url(#c4)"/>
<circle cx="331.4" cy="902.8" r="5.4" fill="#ff0000" clip-path="url(#c4)"/>
<circle cx="334.2" cy="908" r="5.4" fill="#ff0000" clip-path="url(#c4)"/>
<circle cx="247.3" cy="834.3" r="5.4" fill="#008000" clip-path="url(#c4)"/>
<circle cx="278.4" cy="848.2" r="5.4" fill="#008000" clip-path="url(#c4)"/>
<circle cx="283.3" cy="867.3" r="5.4" fill="#008000" clip-path="url(#c4)"/>
<circle cx="312" cy="885.2" r="5.4" fill="#008000" clip-path="url(#c4)"/>
<circle cx="308.6" cy="886.9" r="5.4" fill="#008000" clip-path="url(#c4)"/>
<circle cx="331.1" cy="884.3" r="5.4" fill="#008000" clip-path="url(#c4)"/>
<circle cx="323.4" cy="910.2" r="5.4" fill="#008000" clip-path="url(#c4)"/>
<circle cx="328" cy="910.2" r="5.4" fill="#008000" clip-path="url(#c4)"/>
<circle cx="329.1" cy="905.7" r="5.4" fill="#008000" clip-path="url(#c4)"/>
<circle cx="335.4" cy="911.9" r="5.4" fill="#008000" clip-path="url(#c4)"/>
<circle cx="341" cy="919.9" r="5.4" fill="#008000" clip-path="url(#c4)"/>
<circle cx="345" cy="925.6" r="5.4" fill="#008000" clip-path="url(#c4)"/>
<circle cx="375.2" cy="913.1" r="5.4" fill="#008000" clip-path="url(#c4)"/>
<circle cx="396.3" cy="980.9" r="5.4" fill="#008000" clip-path="url(#c4)"/>
<circle cx="413" cy="988.1" r="5.4" fill="#008000" clip-path="url(#c4)"/>
<circle cx="531.3" cy="1096.4" r="5.4" fill="#0000ff" clip-path="url(#c4)"/>
<circle cx="542.4" cy="1101.3" r="5.4" fill="#0000ff" clip-path="url(#c4)"/>
<circle cx="541.6" cy="1109.5" r="5.4" fill="#0000ff" clip-path="url(#c4)"/>
<circle cx="550.7" cy="1105.6" r="5.4" fill="#0000ff" clip-path="url(#c4)"/>
<circle cx="557" cy="1110.7" r="5.4" fill="#0000ff" clip-path="url(#c4)"/>
<circle cx="560.6" cy="1107.3" r="5.4" fill="#0000ff" clip-path="url(#c4)"/>
<circle cx="566.1" cy="1109" r="5.4" fill="#0000ff" clip-path="url(#c4)"/>
<circle cx="570.5" cy="1092.7" r="5.4" fill="#0000ff" clip-path="url(#c4)"/>
<circle cx="569" cy="1112" r="5.4" fill="#0000ff" clip-path="url(#c4)"/>
<circle cx="553" cy="1112" r="5.4" fill="#0000ff" clip-path="url(#c4)"/>
<polyline points="117.4,719.5 557.5,1105.8" fill="none" stroke="#000000" stroke-width="2" stroke-linejoin="round" stroke-dasharray="12.5 12.5" clip-path="url(#c4)"/>
<rect x="117" y="662" width="454" height="454" fill="none" stroke="#000" stroke-width="2"/>
<line x1="155.5" y1="1116" x2="155.5" y2="1107.67" stroke="#000" stroke-width="1.04"/>
<line x1="155.5" y1="662" x2="155.5" y2="670.33" stroke="#000" stroke-width="1.04"/>
<text x="131.98" y="1138" font-size="17.5" textLength="44.67" lengthAdjust="spacingAndGlyphs">−100</text>
<line x1="242.5" y1="1116" x2="242.5" y2="1107.67" stroke="#000" stroke-width="1.04"/>
<line x1="242.5" y1="662" x2="242.5" y2="670.33" stroke="#000" stroke-width="1.04"/>
<text x="224.11" y="1138" font-size="17.5" textLength="34.09" lengthAdjust="spacingAndGlyphs">−50</text>
<line x1="328.5" y1="1116" x2="328.5" y2="1107.67" stroke="#000" stroke-width="1.04"/>
<line x1="328.5" y1="662" x2="328.5" y2="670.33" stroke="#000" stroke-width="1.04"/>
<text x="322.88" y="1138" font-size="17.5" textLength="9.77" lengthAdjust="spacingAndGlyphs">0</text>
<line x1="415.5" y1="1116" x2="415.5" y2="1107.67" stroke="#000" stroke-width="1.04"/>
<line x1="415.5" y1="662" x2="415.5" y2="670.33" stroke="#000" stroke-width="1.04"/>
<text x="404.56" y="1138" font-size="17.5" textLength="20.26" lengthAdjust="spacingAndGlyphs">50</text>
<line x1="502.5" y1="1116" x2="502.5" y2="1107.67" stroke="#000" stroke-width="1.04"/>
<line x1="502.5" y1="662" x2="502.5" y2="670.33" stroke="#000" stroke-width="1.04"/>
<text x="485.95" y="1138" font-size="17.5" textLength="31.03" lengthAdjust="spacingAndGlyphs">100</text>
<line x1="117" y1="1078.5" x2="125.33" y2="1078.5" stroke="#000" stroke-width="1.04"/>
<line x1="571" y1="1078.5" x2="562.67" y2="1078.5" stroke="#000" stroke-width="1.04"/>
<text x="63" y="1082.89" font-size="17.5" textLength="44.67" lengthAdjust="spacingAndGlyphs">−100</text>
<line x1="117" y1="991.5" x2="125.33" y2="991.5" stroke="#000" stroke-width="1.04"/>
<line x1="571" y1="991.5" x2="562.67" y2="991.5" stroke="#000" stroke-width="1.04"/>
<text x="73.59" y="995.88" font-size="17.5" textLength="34.09" lengthAdjust="spacingAndGlyphs">−50</text>
<line x1="117" y1="904.5" x2="125.33" y2="904.5" stroke="#000" stroke-width="1.04"/>
<line x1="571" y1="904.5" x2="562.67" y2="904.5" stroke="#000" stroke-width="1.04"/>
<text x="97.81" y="908.88" font-size="17.5" textLength="9.77" lengthAdjust="spacingAndGlyphs">0</text>
<line x1="117" y1="817.5" x2="125.33" y2="817.5" stroke="#000" stroke-width="1.04"/>
<line x1="571" y1="817.5" x2="562.67" y2="817.5" stroke="#000" stroke-width="1.04"/>
<text x="87.35" y="821.87" font-size="17.5" textLength="20.26" lengthAdjust="spacingAndGlyphs">50</text>
<line x1="117" y1="730.5" x2="125.33" y2="730.5" stroke="#000" stroke-width="1.04"/>
<line x1="571" y1="730.5" x2="562.67" y2="730.5" stroke="#000" stroke-width="1.04"/>
<text x="76.6" y="734.87" font-size="17.5" textLength="31.03" lengthAdjust="spacingAndGlyphs">100</text>
<rect x="125" y="669" width="145" height="72" fill="#fff" stroke="#000" stroke-width="2"/>
<text x="127.5" y="686.7" font-size="19.7" textLength="137.83" lengthAdjust="spacingAndGlyphs">slope = -0.879</text>
<text x="128.5" y="708.2" font-size="19.5" textLength="8.63" lengthAdjust="spacingAndGlyphs" font-family="Liberation Serif" font-style="italic">r</text>
<text x="143.43" y="708.2" font-size="19.7" textLength="81.2" lengthAdjust="spacingAndGlyphs">= -0.995</text>
<text x="130.25" y="730.3" font-size="19.5" textLength="17.49" lengthAdjust="spacingAndGlyphs" font-family="Liberation Serif" font-style="italic">M</text>
<text x="148.24" y="733.6" font-size="13.5" textLength="8.31" lengthAdjust="spacingAndGlyphs" font-family="Liberation Serif" font-style="italic">A</text>
<text x="164.03" y="730.3" font-size="19.7" textLength="73.9" lengthAdjust="spacingAndGlyphs">= 0.885</text>
<text x="285.95" y="651.5" font-size="24.5" textLength="116.42" lengthAdjust="spacingAndGlyphs">WalenTest</text>
<text x="307.03" y="1167.8" font-size="17.5" textLength="11.15" lengthAdjust="spacingAndGlyphs">V</text>
<text x="320.18" y="1169.9" font-size="12" textLength="6.48" lengthAdjust="spacingAndGlyphs" font-family="Liberation Serif" font-style="italic">A</text>
<text x="328.01" y="1167.8" font-size="17.5" textLength="53.28" lengthAdjust="spacingAndGlyphs">(km/s)</text>
<g transform="translate(44.51 889) rotate(-90)"><text x="-59.3" y="0" font-size="17.5" textLength="11.4" lengthAdjust="spacingAndGlyphs">V</text><text x="-47.6" y="2.4" font-size="11" font-family="Liberation Serif" font-style="italic" textLength="53.4" lengthAdjust="spacingAndGlyphs">remaining</text><text x="6.1" y="0" font-size="17.5" textLength="53.2" lengthAdjust="spacingAndGlyphs">(km/s)</text></g>
<polyline points="884.2,692.2 875,725.3 829.2,783.1 896.9,803.4 950.7,839.3 870.2,808.2 869.4,815.4 961.1,842.1 942,846.1 895.7,864.4 876.2,888.3 906.1,845.3 902.9,892.3 878.2,1028.6 869.4,1047.3 876.2,888.3 875,873.2" fill="none" stroke="#0000ff" stroke-width="2" stroke-linejoin="round" clip-path="url(#c5)"/>
<circle cx="884.2" cy="692.2" r="3.4" fill="#0000ff" clip-path="url(#c5)"/>
<circle cx="875" cy="725.3" r="3.4" fill="#0000ff" clip-path="url(#c5)"/>
<circle cx="829.2" cy="783.1" r="3.4" fill="#0000ff" clip-path="url(#c5)"/>
<circle cx="896.9" cy="803.4" r="3.4" fill="#0000ff" clip-path="url(#c5)"/>
<circle cx="870.2" cy="808.2" r="3.4" fill="#0000ff" clip-path="url(#c5)"/>
<circle cx="869.4" cy="815.4" r="3.4" fill="#0000ff" clip-path="url(#c5)"/>
<circle cx="950.7" cy="839.3" r="3.4" fill="#0000ff" clip-path="url(#c5)"/>
<circle cx="961.1" cy="842.1" r="3.4" fill="#0000ff" clip-path="url(#c5)"/>
<circle cx="942" cy="846.1" r="3.4" fill="#0000ff" clip-path="url(#c5)"/>
<circle cx="906.1" cy="845.3" r="3.4" fill="#0000ff" clip-path="url(#c5)"/>
<circle cx="895.7" cy="864.4" r="3.4" fill="#0000ff" clip-path="url(#c5)"/>
<circle cx="875" cy="873.2" r="3.4" fill="#0000ff" clip-path="url(#c5)"/>
<circle cx="876.2" cy="888.3" r="3.4" fill="#0000ff" clip-path="url(#c5)"/>
<circle cx="902.9" cy="892.3" r="3.4" fill="#0000ff" clip-path="url(#c5)"/>
<circle cx="878.2" cy="1028.6" r="3.4" fill="#0000ff" clip-path="url(#c5)"/>
<circle cx="869.4" cy="1047.3" r="3.4" fill="#0000ff" clip-path="url(#c5)"/>
<line x1="730.5" y1="1116" x2="730.5" y2="662" stroke="#000" stroke-width="1.04" stroke-dasharray="2.08 6.25"/>
<line x1="730.5" y1="1116" x2="730.5" y2="1107.67" stroke="#000" stroke-width="1.04"/>
<line x1="730.5" y1="662" x2="730.5" y2="670.33" stroke="#000" stroke-width="1.04"/>
<text x="712.33" y="1138" font-size="17.5" textLength="34.09" lengthAdjust="spacingAndGlyphs">−20</text>
<line x1="805.5" y1="1116" x2="805.5" y2="662" stroke="#000" stroke-width="1.04" stroke-dasharray="2.08 6.25"/>
<line x1="805.5" y1="1116" x2="805.5" y2="1107.67" stroke="#000" stroke-width="1.04"/>
<line x1="805.5" y1="662" x2="805.5" y2="670.33" stroke="#000" stroke-width="1.04"/>
<text x="799.93" y="1138" font-size="17.5" textLength="9.77" lengthAdjust="spacingAndGlyphs">0</text>
<line x1="881.5" y1="1116" x2="881.5" y2="662" stroke="#000" stroke-width="1.04" stroke-dasharray="2.08 6.25"/>
<line x1="881.5" y1="1116" x2="881.5" y2="1107.67" stroke="#000" stroke-width="1.04"/>
<line x1="881.5" y1="662" x2="881.5" y2="670.33" stroke="#000" stroke-width="1.04"/>
<text x="870.17" y="1138" font-size="17.5" textLength="20.53" lengthAdjust="spacingAndGlyphs">20</text>
<line x1="957.5" y1="1116" x2="957.5" y2="662" stroke="#000" stroke-width="1.04" stroke-dasharray="2.08 6.25"/>
<line x1="957.5" y1="1116" x2="957.5" y2="1107.67" stroke="#000" stroke-width="1.04"/>
<line x1="957.5" y1="662" x2="957.5" y2="670.33" stroke="#000" stroke-width="1.04"/>
<text x="945.94" y="1138" font-size="17.5" textLength="20.43" lengthAdjust="spacingAndGlyphs">40</text>
<line x1="1032.5" y1="1116" x2="1032.5" y2="662" stroke="#000" stroke-width="1.04" stroke-dasharray="2.08 6.25"/>
<line x1="1032.5" y1="1116" x2="1032.5" y2="1107.67" stroke="#000" stroke-width="1.04"/>
<line x1="1032.5" y1="662" x2="1032.5" y2="670.33" stroke="#000" stroke-width="1.04"/>
<text x="1021.43" y="1138" font-size="17.5" textLength="20.61" lengthAdjust="spacingAndGlyphs">60</text>
<line x1="1108.5" y1="1116" x2="1108.5" y2="662" stroke="#000" stroke-width="1.04" stroke-dasharray="2.08 6.25"/>
<line x1="1108.5" y1="1116" x2="1108.5" y2="1107.67" stroke="#000" stroke-width="1.04"/>
<line x1="1108.5" y1="662" x2="1108.5" y2="670.33" stroke="#000" stroke-width="1.04"/>
<text x="1097.21" y="1138" font-size="17.5" textLength="20.5" lengthAdjust="spacingAndGlyphs">80</text>
<line x1="673" y1="1116.5" x2="1127" y2="1116.5" stroke="#000" stroke-width="1.04" stroke-dasharray="2.08 6.25"/>
<line x1="673" y1="1116.5" x2="681.33" y2="1116.5" stroke="#000" stroke-width="1.04"/>
<line x1="1127" y1="1116.5" x2="1118.67" y2="1116.5" stroke="#000" stroke-width="1.04"/>
<text x="629.59" y="1121" font-size="17.5" textLength="34.09" lengthAdjust="spacingAndGlyphs">−60</text>
<line x1="673" y1="1040.5" x2="1127" y2="1040.5" stroke="#000" stroke-width="1.04" stroke-dasharray="2.08 6.25"/>
<line x1="673" y1="1040.5" x2="681.33" y2="1040.5" stroke="#000" stroke-width="1.04"/>
<line x1="1127" y1="1040.5" x2="1118.67" y2="1040.5" stroke="#000" stroke-width="1.04"/>
<text x="629.59" y="1045.33" font-size="17.5" textLength="34.09" lengthAdjust="spacingAndGlyphs">−40</text>
<line x1="673" y1="965.5" x2="1127" y2="965.5" stroke="#000" stroke-width="1.04" stroke-dasharray="2.08 6.25"/>
<line x1="673" y1="965.5" x2="681.33" y2="965.5" stroke="#000" stroke-width="1.04"/>
<line x1="1127" y1="965.5" x2="1118.67" y2="965.5" stroke="#000" stroke-width="1.04"/>
<text x="629.59" y="969.67" font-size="17.5" textLength="34.09" lengthAdjust="spacingAndGlyphs">−20</text>
<line x1="673" y1="889.5" x2="1127" y2="889.5" stroke="#000" stroke-width="1.04" stroke-dasharray="2.08 6.25"/>
<line x1="673" y1="889.5" x2="681.33" y2="889.5" stroke="#000" stroke-width="1.04"/>
<line x1="1127" y1="889.5" x2="1118.67" y2="889.5" stroke="#000" stroke-width="1.04"/>
<text x="653.81" y="894" font-size="17.5" textLength="9.77" lengthAdjust="spacingAndGlyphs">0</text>
<line x1="673" y1="813.5" x2="1127" y2="813.5" stroke="#000" stroke-width="1.04" stroke-dasharray="2.08 6.25"/>
<line x1="673" y1="813.5" x2="681.33" y2="813.5" stroke="#000" stroke-width="1.04"/>
<line x1="1127" y1="813.5" x2="1118.67" y2="813.5" stroke="#000" stroke-width="1.04"/>
<text x="643.08" y="818.33" font-size="17.5" textLength="20.53" lengthAdjust="spacingAndGlyphs">20</text>
<line x1="673" y1="738.5" x2="1127" y2="738.5" stroke="#000" stroke-width="1.04" stroke-dasharray="2.08 6.25"/>
<line x1="673" y1="738.5" x2="681.33" y2="738.5" stroke="#000" stroke-width="1.04"/>
<line x1="1127" y1="738.5" x2="1118.67" y2="738.5" stroke="#000" stroke-width="1.04"/>
<text x="643.18" y="742.67" font-size="17.5" textLength="20.43" lengthAdjust="spacingAndGlyphs">40</text>
<line x1="673" y1="662.5" x2="1127" y2="662.5" stroke="#000" stroke-width="1.04" stroke-dasharray="2.08 6.25"/>
<line x1="673" y1="662.5" x2="681.33" y2="662.5" stroke="#000" stroke-width="1.04"/>
<line x1="1127" y1="662.5" x2="1118.67" y2="662.5" stroke="#000" stroke-width="1.04"/>
<text x="643.01" y="667" font-size="17.5" textLength="20.61" lengthAdjust="spacingAndGlyphs">60</text>
<rect x="673" y="662" width="454" height="454" fill="none" stroke="#000" stroke-width="2"/>
<text x="862.44" y="1166.8" font-size="17.5" textLength="74.89" lengthAdjust="spacingAndGlyphs">V2(km/s)</text>
<g transform="translate(614.32 889) rotate(-90)"><text x="-37.56" y="0" font-size="17.5" textLength="74.89" lengthAdjust="spacingAndGlyphs">V1(km/s)</text></g>
<text x="686.27" y="1093.2" font-size="19" textLength="10.21" lengthAdjust="spacingAndGlyphs" font-family="Liberation Serif" font-style="italic">λ</text>
<text x="694.13" y="1096" font-size="13" textLength="7.24" lengthAdjust="spacingAndGlyphs" font-family="Liberation Serif">1</text>
<text x="703.4" y="1094.7" font-size="19" textLength="7.9" lengthAdjust="spacingAndGlyphs" font-family="Liberation Serif">/</text>
<text x="714.18" y="1093.2" font-size="19" textLength="10.31" lengthAdjust="spacingAndGlyphs" font-family="Liberation Serif" font-style="italic">λ</text>
<text x="722.68" y="1096" font-size="13" textLength="7.11" lengthAdjust="spacingAndGlyphs" font-family="Liberation Serif">2</text>
<text x="734.45" y="1094.9" font-size="20" textLength="14.84" lengthAdjust="spacingAndGlyphs" font-family="Liberation Serif">≈</text>
<text x="755.23" y="1093.2" font-size="19.69" textLength="40.51" lengthAdjust="spacingAndGlyphs">7.05</text>
<text x="677.75" y="650.1" font-size="24.5" textLength="280.43" lengthAdjust="spacingAndGlyphs">Hodogram (V2_V1 MVAV</text>
<text x="960.64" y="653" font-size="16.5" textLength="76.62" lengthAdjust="spacingAndGlyphs" font-family="Liberation Serif" font-style="italic">remaining</text>
<text x="1044.51" y="650.1" font-size="24.5" textLength="78.37" lengthAdjust="spacingAndGlyphs">frame)</text>
<polyline points="1484,692.2 1469.3,725.3 1447.8,783.1 1447,803.4 1449,808.2 1462.9,842.1" fill="none" stroke="#0000ff" stroke-width="2" stroke-linejoin="round" clip-path="url(#c6)"/>
<polyline points="1447,803.4 1438.2,815.4 1454.1,839.3 1445.8,846.1 1442.2,846.5 1439,864.4 1430.2,888.3" fill="none" stroke="#0000ff" stroke-width="2" stroke-linejoin="round" clip-path="url(#c6)"/>
<polyline points="1445.8,846.1 1446.2,892.3 1468.1,1028.6 1474.9,1047.3 1451.3,873.2" fill="none" stroke="#0000ff" stroke-width="2" stroke-linejoin="round" clip-path="url(#c6)"/>
<circle cx="1484" cy="692.2" r="3.4" fill="#0000ff" clip-path="url(#c6)"/>
<circle cx="1469.3" cy="725.3" r="3.4" fill="#0000ff" clip-path="url(#c6)"/>
<circle cx="1447.8" cy="783.1" r="3.4" fill="#0000ff" clip-path="url(#c6)"/>
<circle cx="1447" cy="803.4" r="3.4" fill="#0000ff" clip-path="url(#c6)"/>
<circle cx="1449" cy="808.2" r="3.4" fill="#0000ff" clip-path="url(#c6)"/>
<circle cx="1438.2" cy="815.4" r="3.4" fill="#0000ff" clip-path="url(#c6)"/>
<circle cx="1454.1" cy="839.3" r="3.4" fill="#0000ff" clip-path="url(#c6)"/>
<circle cx="1462.9" cy="842.1" r="3.4" fill="#0000ff" clip-path="url(#c6)"/>
<circle cx="1445.8" cy="846.1" r="3.4" fill="#0000ff" clip-path="url(#c6)"/>
<circle cx="1442.2" cy="846.5" r="3.4" fill="#0000ff" clip-path="url(#c6)"/>
<circle cx="1439" cy="864.4" r="3.4" fill="#0000ff" clip-path="url(#c6)"/>
<circle cx="1451.3" cy="873.2" r="3.4" fill="#0000ff" clip-path="url(#c6)"/>
<circle cx="1430.2" cy="888.3" r="3.4" fill="#0000ff" clip-path="url(#c6)"/>
<circle cx="1446.2" cy="892.3" r="3.4" fill="#0000ff" clip-path="url(#c6)"/>
<circle cx="1468.1" cy="1028.6" r="3.4" fill="#0000ff" clip-path="url(#c6)"/>
<circle cx="1474.9" cy="1047.3" r="3.4" fill="#0000ff" clip-path="url(#c6)"/>
<line x1="1283.5" y1="1116" x2="1283.5" y2="662" stroke="#000" stroke-width="1.04" stroke-dasharray="2.08 6.25"/>
<line x1="1283.5" y1="1116" x2="1283.5" y2="1107.67" stroke="#000" stroke-width="1.04"/>
<line x1="1283.5" y1="662" x2="1283.5" y2="670.33" stroke="#000" stroke-width="1.04"/>
<text x="1260.02" y="1138" font-size="17.5" textLength="44.67" lengthAdjust="spacingAndGlyphs">−160</text>
<line x1="1358.5" y1="1116" x2="1358.5" y2="662" stroke="#000" stroke-width="1.04" stroke-dasharray="2.08 6.25"/>
<line x1="1358.5" y1="1116" x2="1358.5" y2="1107.67" stroke="#000" stroke-width="1.04"/>
<line x1="1358.5" y1="662" x2="1358.5" y2="670.33" stroke="#000" stroke-width="1.04"/>
<text x="1335.68" y="1138" font-size="17.5" textLength="44.67" lengthAdjust="spacingAndGlyphs">−140</text>
<line x1="1434.5" y1="1116" x2="1434.5" y2="662" stroke="#000" stroke-width="1.04" stroke-dasharray="2.08 6.25"/>
<line x1="1434.5" y1="1116" x2="1434.5" y2="1107.67" stroke="#000" stroke-width="1.04"/>
<line x1="1434.5" y1="662" x2="1434.5" y2="670.33" stroke="#000" stroke-width="1.04"/>
<text x="1411.35" y="1138" font-size="17.5" textLength="44.67" lengthAdjust="spacingAndGlyphs">−120</text>
<line x1="1510.5" y1="1116" x2="1510.5" y2="662" stroke="#000" stroke-width="1.04" stroke-dasharray="2.08 6.25"/>
<line x1="1510.5" y1="1116" x2="1510.5" y2="1107.67" stroke="#000" stroke-width="1.04"/>
<line x1="1510.5" y1="662" x2="1510.5" y2="670.33" stroke="#000" stroke-width="1.04"/>
<text x="1487.02" y="1138" font-size="17.5" textLength="44.67" lengthAdjust="spacingAndGlyphs">−100</text>
<line x1="1585.5" y1="1116" x2="1585.5" y2="662" stroke="#000" stroke-width="1.04" stroke-dasharray="2.08 6.25"/>
<line x1="1585.5" y1="1116" x2="1585.5" y2="1107.67" stroke="#000" stroke-width="1.04"/>
<line x1="1585.5" y1="662" x2="1585.5" y2="670.33" stroke="#000" stroke-width="1.04"/>
<text x="1567.97" y="1138" font-size="17.5" textLength="34.09" lengthAdjust="spacingAndGlyphs">−80</text>
<line x1="1661.5" y1="1116" x2="1661.5" y2="662" stroke="#000" stroke-width="1.04" stroke-dasharray="2.08 6.25"/>
<line x1="1661.5" y1="1116" x2="1661.5" y2="1107.67" stroke="#000" stroke-width="1.04"/>
<line x1="1661.5" y1="662" x2="1661.5" y2="670.33" stroke="#000" stroke-width="1.04"/>
<text x="1643.64" y="1138" font-size="17.5" textLength="34.09" lengthAdjust="spacingAndGlyphs">−60</text>
<line x1="1229" y1="1116.5" x2="1683" y2="1116.5" stroke="#000" stroke-width="1.04" stroke-dasharray="2.08 6.25"/>
<line x1="1229" y1="1116.5" x2="1237.33" y2="1116.5" stroke="#000" stroke-width="1.04"/>
<line x1="1683" y1="1116.5" x2="1674.67" y2="1116.5" stroke="#000" stroke-width="1.04"/>
<text x="1185.59" y="1121" font-size="17.5" textLength="34.09" lengthAdjust="spacingAndGlyphs">−60</text>
<line x1="1229" y1="1040.5" x2="1683" y2="1040.5" stroke="#000" stroke-width="1.04" stroke-dasharray="2.08 6.25"/>
<line x1="1229" y1="1040.5" x2="1237.33" y2="1040.5" stroke="#000" stroke-width="1.04"/>
<line x1="1683" y1="1040.5" x2="1674.67" y2="1040.5" stroke="#000" stroke-width="1.04"/>
<text x="1185.59" y="1045.33" font-size="17.5" textLength="34.09" lengthAdjust="spacingAndGlyphs">−40</text>
<line x1="1229" y1="965.5" x2="1683" y2="965.5" stroke="#000" stroke-width="1.04" stroke-dasharray="2.08 6.25"/>
<line x1="1229" y1="965.5" x2="1237.33" y2="965.5" stroke="#000" stroke-width="1.04"/>
<line x1="1683" y1="965.5" x2="1674.67" y2="965.5" stroke="#000" stroke-width="1.04"/>
<text x="1185.59" y="969.67" font-size="17.5" textLength="34.09" lengthAdjust="spacingAndGlyphs">−20</text>
<line x1="1229" y1="889.5" x2="1683" y2="889.5" stroke="#000" stroke-width="1.04" stroke-dasharray="2.08 6.25"/>
<line x1="1229" y1="889.5" x2="1237.33" y2="889.5" stroke="#000" stroke-width="1.04"/>
<line x1="1683" y1="889.5" x2="1674.67" y2="889.5" stroke="#000" stroke-width="1.04"/>
<text x="1209.81" y="894" font-size="17.5" textLength="9.77" lengthAdjust="spacingAndGlyphs">0</text>
<line x1="1229" y1="813.5" x2="1683" y2="813.5" stroke="#000" stroke-width="1.04" stroke-dasharray="2.08 6.25"/>
<line x1="1229" y1="813.5" x2="1237.33" y2="813.5" stroke="#000" stroke-width="1.04"/>
<line x1="1683" y1="813.5" x2="1674.67" y2="813.5" stroke="#000" stroke-width="1.04"/>
<text x="1199.08" y="818.33" font-size="17.5" textLength="20.53" lengthAdjust="spacingAndGlyphs">20</text>
<line x1="1229" y1="738.5" x2="1683" y2="738.5" stroke="#000" stroke-width="1.04" stroke-dasharray="2.08 6.25"/>
<line x1="1229" y1="738.5" x2="1237.33" y2="738.5" stroke="#000" stroke-width="1.04"/>
<line x1="1683" y1="738.5" x2="1674.67" y2="738.5" stroke="#000" stroke-width="1.04"/>
<text x="1199.18" y="742.67" font-size="17.5" textLength="20.43" lengthAdjust="spacingAndGlyphs">40</text>
<line x1="1229" y1="662.5" x2="1683" y2="662.5" stroke="#000" stroke-width="1.04" stroke-dasharray="2.08 6.25"/>
<line x1="1229" y1="662.5" x2="1237.33" y2="662.5" stroke="#000" stroke-width="1.04"/>
<line x1="1683" y1="662.5" x2="1674.67" y2="662.5" stroke="#000" stroke-width="1.04"/>
<text x="1199.01" y="667" font-size="17.5" textLength="20.61" lengthAdjust="spacingAndGlyphs">60</text>
<rect x="1229" y="662" width="454" height="454" fill="none" stroke="#000" stroke-width="2"/>
<text x="1418.44" y="1166.8" font-size="17.5" textLength="74.89" lengthAdjust="spacingAndGlyphs">V3(km/s)</text>
<g transform="translate(1170.32 889) rotate(-90)"><text x="-37.56" y="0" font-size="17.5" textLength="74.89" lengthAdjust="spacingAndGlyphs">V1(km/s)</text></g>
<text x="1262.17" y="1093.2" font-size="19" textLength="10.21" lengthAdjust="spacingAndGlyphs" font-family="Liberation Serif" font-style="italic">λ</text>
<text x="1270.03" y="1096" font-size="13" textLength="7.24" lengthAdjust="spacingAndGlyphs" font-family="Liberation Serif">1</text>
<text x="1279.3" y="1094.7" font-size="19" textLength="7.9" lengthAdjust="spacingAndGlyphs" font-family="Liberation Serif">/</text>
<text x="1290.08" y="1093.2" font-size="19" textLength="10.31" lengthAdjust="spacingAndGlyphs" font-family="Liberation Serif" font-style="italic">λ</text>
<text x="1298.54" y="1096" font-size="13" textLength="6.9" lengthAdjust="spacingAndGlyphs" font-family="Liberation Serif">3</text>
<text x="1310.35" y="1094.9" font-size="20" textLength="14.84" lengthAdjust="spacingAndGlyphs" font-family="Liberation Serif">≈</text>
<text x="1331.4" y="1093.2" font-size="19.69" textLength="52.5" lengthAdjust="spacingAndGlyphs">38.07</text>
<text x="1233.75" y="650.1" font-size="24.5" textLength="280.43" lengthAdjust="spacingAndGlyphs">Hodogram (V3_V1 MVAV</text>
<text x="1516.64" y="653" font-size="16.5" textLength="76.62" lengthAdjust="spacingAndGlyphs" font-family="Liberation Serif" font-style="italic">remaining</text>
<text x="1600.51" y="650.1" font-size="24.5" textLength="78.37" lengthAdjust="spacingAndGlyphs">frame)</text>
<polyline points="117,1400.64 1683,1400.64" fill="none" stroke="#000000" stroke-width="1.1" stroke-linejoin="round" stroke-dasharray="12.5 12.5" clip-path="url(#c7)"/>
<polyline points="117,1329.1 221.4,1329.1 325.8,1344.2 430.2,1330.1 534.6,1321 639,1328.2 743.4,1338.5 847.8,1321.6 952.2,1323 1056.6,1330.1 1161,1338.5 1265.4,1330.1 1369.8,1329.8 1474.2,1354.8 1578.6,1357 1683,1351.7" fill="none" stroke="#ff0000" stroke-width="2" stroke-linejoin="round" clip-path="url(#c7)"/>
<polyline points="117,1447.2 221.4,1460.7 325.8,1471 430.2,1474.8 534.6,1473.5 639,1477.3 743.4,1478.8 847.8,1473.2 952.2,1474.8 1056.6,1482.3 1161,1487.6 1265.4,1479.2 1369.8,1483 1474.2,1503 1578.6,1506.1 1683,1496.7" fill="none" stroke="#008000" stroke-width="2" stroke-linejoin="round" clip-path="url(#c7)"/>
<polyline points="117,1320.4 221.4,1330.7 325.8,1326.6 430.2,1342.3 534.6,1353.6 639,1352.6 743.4,1337 847.8,1351.7 952.2,1349.8 1056.6,1351.1 1161,1350.1 1265.4,1348.6 1369.8,1356.5 1474.2,1369.2 1578.6,1375.5 1683,1362.7" fill="none" stroke="#0000ff" stroke-width="2" stroke-linejoin="round" clip-path="url(#c7)"/>
<rect x="117" y="1305" width="1566" height="222" fill="none" stroke="#000" stroke-width="2"/>
<line x1="117.5" y1="1527" x2="117.5" y2="1518.67" stroke="#000" stroke-width="1.04"/>
<line x1="117.5" y1="1305" x2="117.5" y2="1313.33" stroke="#000" stroke-width="1.04"/>
<text x="52.65" y="1550" font-size="17.5" textLength="127.55" lengthAdjust="spacingAndGlyphs">03/25 21:40:48</text>
<line x1="639.5" y1="1527" x2="639.5" y2="1518.67" stroke="#000" stroke-width="1.04"/>
<line x1="639.5" y1="1305" x2="639.5" y2="1313.33" stroke="#000" stroke-width="1.04"/>
<text x="574.65" y="1550" font-size="17.5" textLength="127.36" lengthAdjust="spacingAndGlyphs">03/25 21:40:53</text>
<line x1="1161.5" y1="1527" x2="1161.5" y2="1518.67" stroke="#000" stroke-width="1.04"/>
<line x1="1161.5" y1="1305" x2="1161.5" y2="1313.33" stroke="#000" stroke-width="1.04"/>
<text x="1096.65" y="1550" font-size="17.5" textLength="127.55" lengthAdjust="spacingAndGlyphs">03/25 21:40:58</text>
<line x1="1683.5" y1="1527" x2="1683.5" y2="1518.67" stroke="#000" stroke-width="1.04"/>
<line x1="1683.5" y1="1305" x2="1683.5" y2="1313.33" stroke="#000" stroke-width="1.04"/>
<text x="1618.65" y="1550" font-size="17.5" textLength="127.36" lengthAdjust="spacingAndGlyphs">03/25 21:41:03</text>
<line x1="117" y1="1527.5" x2="125.33" y2="1527.5" stroke="#000" stroke-width="1.04"/>
<line x1="1683" y1="1527.5" x2="1674.67" y2="1527.5" stroke="#000" stroke-width="1.04"/>
<text x="73.59" y="1532" font-size="17.5" textLength="34.09" lengthAdjust="spacingAndGlyphs">−80</text>
<line x1="117" y1="1495.5" x2="125.33" y2="1495.5" stroke="#000" stroke-width="1.04"/>
<line x1="1683" y1="1495.5" x2="1674.67" y2="1495.5" stroke="#000" stroke-width="1.04"/>
<text x="73.59" y="1500.29" font-size="17.5" textLength="34.09" lengthAdjust="spacingAndGlyphs">−60</text>
<line x1="117" y1="1464.5" x2="125.33" y2="1464.5" stroke="#000" stroke-width="1.04"/>
<line x1="1683" y1="1464.5" x2="1674.67" y2="1464.5" stroke="#000" stroke-width="1.04"/>
<text x="73.59" y="1468.57" font-size="17.5" textLength="34.09" lengthAdjust="spacingAndGlyphs">−40</text>
<line x1="117" y1="1432.5" x2="125.33" y2="1432.5" stroke="#000" stroke-width="1.04"/>
<line x1="1683" y1="1432.5" x2="1674.67" y2="1432.5" stroke="#000" stroke-width="1.04"/>
<text x="73.59" y="1436.86" font-size="17.5" textLength="34.09" lengthAdjust="spacingAndGlyphs">−20</text>
<line x1="117" y1="1400.5" x2="125.33" y2="1400.5" stroke="#000" stroke-width="1.04"/>
<line x1="1683" y1="1400.5" x2="1674.67" y2="1400.5" stroke="#000" stroke-width="1.04"/>
<text x="97.81" y="1405.14" font-size="17.5" textLength="9.77" lengthAdjust="spacingAndGlyphs">0</text>
<line x1="117" y1="1368.5" x2="125.33" y2="1368.5" stroke="#000" stroke-width="1.04"/>
<line x1="1683" y1="1368.5" x2="1674.67" y2="1368.5" stroke="#000" stroke-width="1.04"/>
<text x="87.08" y="1373.43" font-size="17.5" textLength="20.53" lengthAdjust="spacingAndGlyphs">20</text>
<line x1="117" y1="1337.5" x2="125.33" y2="1337.5" stroke="#000" stroke-width="1.04"/>
<line x1="1683" y1="1337.5" x2="1674.67" y2="1337.5" stroke="#000" stroke-width="1.04"/>
<text x="87.18" y="1341.71" font-size="17.5" textLength="20.43" lengthAdjust="spacingAndGlyphs">40</text>
<line x1="117" y1="1305.5" x2="125.33" y2="1305.5" stroke="#000" stroke-width="1.04"/>
<line x1="1683" y1="1305.5" x2="1674.67" y2="1305.5" stroke="#000" stroke-width="1.04"/>
<text x="87.01" y="1310" font-size="17.5" textLength="20.61" lengthAdjust="spacingAndGlyphs">60</text>
<text x="740.2" y="1294.5" font-size="24.5" textLength="319.39" lengthAdjust="spacingAndGlyphs">Magnetic Field (RTN Frame)</text>
<g transform="translate(58.32 1416) rotate(-90)"><text x="-22.43" y="0" font-size="17.5" textLength="44.7" lengthAdjust="spacingAndGlyphs">B(nT)</text></g>
<rect x="1604" y="1312" width="72" height="72" fill="#fff" stroke="#000" stroke-width="2"/>
<line x1="1613.1" y1="1324.4" x2="1635.6" y2="1324.4" stroke="#ff0000" stroke-width="2"/>
<text x="1651.41" y="1329.9" font-size="15.75" textLength="16.63" lengthAdjust="spacingAndGlyphs">Br</text>
<line x1="1613.1" y1="1347" x2="1635.6" y2="1347" stroke="#008000" stroke-width="2"/>
<text x="1651.4" y="1352.5" font-size="15.75" textLength="15.84" lengthAdjust="spacingAndGlyphs">Bt</text>
<line x1="1613.1" y1="1369.2" x2="1635.6" y2="1369.2" stroke="#0000ff" stroke-width="2"/>
<text x="1651.47" y="1374.7" font-size="15.75" textLength="19.38" lengthAdjust="spacingAndGlyphs">Bn</text>
<polyline points="117,1787.5 1683,1787.5" fill="none" stroke="#000000" stroke-width="1.1" stroke-linejoin="round" stroke-dasharray="12.5 12.5" clip-path="url(#c8)"/>
<polyline points="117,1815.1 221.4,1814.2 325.8,1792.9 430.2,1812 534.6,1825.7 639,1816.7 743.4,1798.8 847.8,1824.5 952.2,1821.5 1056.6,1810.7 1161,1801.3 1265.4,1812.3 1369.8,1813.8 1474.2,1785.3 1578.6,1783.8 1683,1788.5" fill="none" stroke="#ff0000" stroke-width="2" stroke-linejoin="round" clip-path="url(#c8)"/>
<polyline points="117,1835.8 221.4,1816.7 325.8,1812.3 430.2,1796 534.6,1786.6 639,1784.7 743.4,1797.3 847.8,1787.9 952.2,1789 1056.6,1782.2 1161,1779.1 1265.4,1786.9 1369.8,1777.5 1474.2,1750 1578.6,1741.5 1683,1760.3" fill="none" stroke="#008000" stroke-width="2" stroke-linejoin="round" clip-path="url(#c8)"/>
<polyline points="117,1663.2 221.4,1657 325.8,1653.2 430.2,1652.2 534.6,1655.4 639,1654.8 743.4,1650.1 847.8,1654.8 952.2,1652.9 1056.6,1650.7 1161,1649.4 1265.4,1651.3 1369.8,1652.6 1474.2,1655.4 1578.6,1657.3 1683,1654.8" fill="none" stroke="#0000ff" stroke-width="2" stroke-linejoin="round" clip-path="url(#c8)"/>
<polyline points="117,1650.7 221.4,1650.7 325.8,1650.7 430.2,1650.1 534.6,1649.4 639,1651.6 743.4,1648.5 847.8,1649.4 952.2,1648.6 1056.6,1648.8 1161,1648.2 1265.4,1649.4 1369.8,1649.7 1474.2,1650.7 1578.6,1650.1 1683,1651" fill="none" stroke="#000000" stroke-width="2" stroke-linejoin="round" clip-path="url(#c8)"/>
<rect x="117" y="1639" width="1566" height="222" fill="none" stroke="#000" stroke-width="2"/>
<line x1="117.5" y1="1861" x2="117.5" y2="1852.67" stroke="#000" stroke-width="1.04"/>
<line x1="117.5" y1="1639" x2="117.5" y2="1647.33" stroke="#000" stroke-width="1.04"/>
<text x="52.65" y="1884" font-size="17.5" textLength="127.55" lengthAdjust="spacingAndGlyphs">03/25 21:40:48</text>
<line x1="639.5" y1="1861" x2="639.5" y2="1852.67" stroke="#000" stroke-width="1.04"/>
<line x1="639.5" y1="1639" x2="639.5" y2="1647.33" stroke="#000" stroke-width="1.04"/>
<text x="574.65" y="1884" font-size="17.5" textLength="127.36" lengthAdjust="spacingAndGlyphs">03/25 21:40:53</text>
<line x1="1161.5" y1="1861" x2="1161.5" y2="1852.67" stroke="#000" stroke-width="1.04"/>
<line x1="1161.5" y1="1639" x2="1161.5" y2="1647.33" stroke="#000" stroke-width="1.04"/>
<text x="1096.65" y="1884" font-size="17.5" textLength="127.55" lengthAdjust="spacingAndGlyphs">03/25 21:40:58</text>
<line x1="1683.5" y1="1861" x2="1683.5" y2="1852.67" stroke="#000" stroke-width="1.04"/>
<line x1="1683.5" y1="1639" x2="1683.5" y2="1647.33" stroke="#000" stroke-width="1.04"/>
<text x="1618.65" y="1884" font-size="17.5" textLength="127.36" lengthAdjust="spacingAndGlyphs">03/25 21:41:03</text>
<line x1="117" y1="1861.5" x2="125.33" y2="1861.5" stroke="#000" stroke-width="1.04"/>
<line x1="1683" y1="1861.5" x2="1674.67" y2="1861.5" stroke="#000" stroke-width="1.04"/>
<text x="73.59" y="1866" font-size="17.5" textLength="34.09" lengthAdjust="spacingAndGlyphs">−40</text>
<line x1="117" y1="1824.5" x2="125.33" y2="1824.5" stroke="#000" stroke-width="1.04"/>
<line x1="1683" y1="1824.5" x2="1674.67" y2="1824.5" stroke="#000" stroke-width="1.04"/>
<text x="73.59" y="1829" font-size="17.5" textLength="34.09" lengthAdjust="spacingAndGlyphs">−20</text>
<line x1="117" y1="1787.5" x2="125.33" y2="1787.5" stroke="#000" stroke-width="1.04"/>
<line x1="1683" y1="1787.5" x2="1674.67" y2="1787.5" stroke="#000" stroke-width="1.04"/>
<text x="97.81" y="1792" font-size="17.5" textLength="9.77" lengthAdjust="spacingAndGlyphs">0</text>
<line x1="117" y1="1750.5" x2="125.33" y2="1750.5" stroke="#000" stroke-width="1.04"/>
<line x1="1683" y1="1750.5" x2="1674.67" y2="1750.5" stroke="#000" stroke-width="1.04"/>
<text x="87.08" y="1755" font-size="17.5" textLength="20.53" lengthAdjust="spacingAndGlyphs">20</text>
<line x1="117" y1="1713.5" x2="125.33" y2="1713.5" stroke="#000" stroke-width="1.04"/>
<line x1="1683" y1="1713.5" x2="1674.67" y2="1713.5" stroke="#000" stroke-width="1.04"/>
<text x="87.18" y="1718" font-size="17.5" textLength="20.43" lengthAdjust="spacingAndGlyphs">40</text>
<line x1="117" y1="1676.5" x2="125.33" y2="1676.5" stroke="#000" stroke-width="1.04"/>
<line x1="1683" y1="1676.5" x2="1674.67" y2="1676.5" stroke="#000" stroke-width="1.04"/>
<text x="87.01" y="1681" font-size="17.5" textLength="20.61" lengthAdjust="spacingAndGlyphs">60</text>
<line x1="117" y1="1639.5" x2="125.33" y2="1639.5" stroke="#000" stroke-width="1.04"/>
<line x1="1683" y1="1639.5" x2="1674.67" y2="1639.5" stroke="#000" stroke-width="1.04"/>
<text x="87.12" y="1644" font-size="17.5" textLength="20.5" lengthAdjust="spacingAndGlyphs">80</text>
<text x="706.03" y="1628.5" font-size="24.5" textLength="387.73" lengthAdjust="spacingAndGlyphs">Magnetic Field (Flux Rope Frame)</text>
<g transform="translate(58.32 1750) rotate(-90)"><text x="-22.43" y="0" font-size="17.5" textLength="44.7" lengthAdjust="spacingAndGlyphs">B(nT)</text></g>
<rect x="1601" y="1646" width="75" height="94" fill="#fff" stroke="#000" stroke-width="2"/>
<line x1="1610.5" y1="1657.9" x2="1631.8" y2="1657.9" stroke="#ff0000" stroke-width="2"/>
<text x="1648.21" y="1663.4" font-size="15.75" textLength="22.58" lengthAdjust="spacingAndGlyphs">Bx'</text>
<line x1="1610.5" y1="1680.7" x2="1631.8" y2="1680.7" stroke="#008000" stroke-width="2"/>
<text x="1648.21" y="1686.2" font-size="15.75" textLength="22.58" lengthAdjust="spacingAndGlyphs">By'</text>
<line x1="1610.5" y1="1702.4" x2="1631.8" y2="1702.4" stroke="#0000ff" stroke-width="2"/>
<text x="1648.27" y="1707.9" font-size="15.75" textLength="21.47" lengthAdjust="spacingAndGlyphs">Bz'</text>
<line x1="1610.5" y1="1724.6" x2="1631.8" y2="1724.6" stroke="#000000" stroke-width="2"/>
<text x="1648.53" y="1730.1" font-size="15.75" textLength="19.53" lengthAdjust="spacingAndGlyphs">|B|</text>
<polyline points="117,1993.8 221.4,1991.6 325.8,1985.1 430.2,1991.6 534.6,1996.6 639,1988.8 743.4,1988.8 847.8,1996 952.2,1995 1056.6,1989.8 1161,1986.6 1265.4,1991 1369.8,1988.5 1474.2,1978.8 1578.6,1976.3 1683,1986" fill="none" stroke="#ff0000" stroke-width="2" stroke-linejoin="round" clip-path="url(#c9)"/>
<polyline points="117,2190.2 221.4,2185.5 325.8,2178.3 430.2,2177.7 534.6,2176.7 639,2176.7 743.4,2175.2 847.8,2176.1 952.2,2174.2 1056.6,2172 1161,2168.6 1265.4,2174.2 1369.8,2170.2 1474.2,2161.4 1578.6,2160.4 1683,2172" fill="none" stroke="#008000" stroke-width="2" stroke-linejoin="round" clip-path="url(#c9)"/>
<polyline points="117,2194.5 221.4,2192.7 325.8,2191.1 430.2,2184.2 534.6,2175.5 639,2185.8 743.4,2186.1 847.8,2177 952.2,2178.3 1056.6,2179.9 1161,2179.2 1265.4,2180.5 1369.8,2176.1 1474.2,2163.6 1578.6,2162 1683,2179.5" fill="none" stroke="#0000ff" stroke-width="2" stroke-linejoin="round" clip-path="url(#c9)"/>
<rect x="117" y="1972" width="1566" height="222" fill="none" stroke="#000" stroke-width="2"/>
<line x1="117.5" y1="2194" x2="117.5" y2="2185.67" stroke="#000" stroke-width="1.04"/>
<line x1="117.5" y1="1972" x2="117.5" y2="1980.33" stroke="#000" stroke-width="1.04"/>
<text x="52.65" y="2217" font-size="17.5" textLength="127.55" lengthAdjust="spacingAndGlyphs">03/25 21:40:48</text>
<line x1="639.5" y1="2194" x2="639.5" y2="2185.67" stroke="#000" stroke-width="1.04"/>
<line x1="639.5" y1="1972" x2="639.5" y2="1980.33" stroke="#000" stroke-width="1.04"/>
<text x="574.65" y="2217" font-size="17.5" textLength="127.36" lengthAdjust="spacingAndGlyphs">03/25 21:40:53</text>
<line x1="1161.5" y1="2194" x2="1161.5" y2="2185.67" stroke="#000" stroke-width="1.04"/>
<line x1="1161.5" y1="1972" x2="1161.5" y2="1980.33" stroke="#000" stroke-width="1.04"/>
<text x="1096.65" y="2217" font-size="17.5" textLength="127.55" lengthAdjust="spacingAndGlyphs">03/25 21:40:58</text>
<line x1="1683.5" y1="2194" x2="1683.5" y2="2185.67" stroke="#000" stroke-width="1.04"/>
<line x1="1683.5" y1="1972" x2="1683.5" y2="1980.33" stroke="#000" stroke-width="1.04"/>
<text x="1618.65" y="2217" font-size="17.5" textLength="127.36" lengthAdjust="spacingAndGlyphs">03/25 21:41:03</text>
<line x1="117" y1="2194.5" x2="125.33" y2="2194.5" stroke="#000" stroke-width="1.04"/>
<line x1="1683" y1="2194.5" x2="1674.67" y2="2194.5" stroke="#000" stroke-width="1.04"/>
<text x="73.59" y="2199" font-size="17.5" textLength="34.09" lengthAdjust="spacingAndGlyphs">−50</text>
<line x1="117" y1="2169.5" x2="125.33" y2="2169.5" stroke="#000" stroke-width="1.04"/>
<line x1="1683" y1="2169.5" x2="1674.67" y2="2169.5" stroke="#000" stroke-width="1.04"/>
<text x="97.81" y="2174.33" font-size="17.5" textLength="9.77" lengthAdjust="spacingAndGlyphs">0</text>
<line x1="117" y1="2145.5" x2="125.33" y2="2145.5" stroke="#000" stroke-width="1.04"/>
<line x1="1683" y1="2145.5" x2="1674.67" y2="2145.5" stroke="#000" stroke-width="1.04"/>
<text x="87.35" y="2149.67" font-size="17.5" textLength="20.26" lengthAdjust="spacingAndGlyphs">50</text>
<line x1="117" y1="2120.5" x2="125.33" y2="2120.5" stroke="#000" stroke-width="1.04"/>
<line x1="1683" y1="2120.5" x2="1674.67" y2="2120.5" stroke="#000" stroke-width="1.04"/>
<text x="76.6" y="2125" font-size="17.5" textLength="31.03" lengthAdjust="spacingAndGlyphs">100</text>
<line x1="117" y1="2095.5" x2="125.33" y2="2095.5" stroke="#000" stroke-width="1.04"/>
<line x1="1683" y1="2095.5" x2="1674.67" y2="2095.5" stroke="#000" stroke-width="1.04"/>
<text x="76.6" y="2100.33" font-size="17.5" textLength="31.03" lengthAdjust="spacingAndGlyphs">150</text>
<line x1="117" y1="2071.5" x2="125.33" y2="2071.5" stroke="#000" stroke-width="1.04"/>
<line x1="1683" y1="2071.5" x2="1674.67" y2="2071.5" stroke="#000" stroke-width="1.04"/>
<text x="76.46" y="2075.67" font-size="17.5" textLength="31.16" lengthAdjust="spacingAndGlyphs">200</text>
<line x1="117" y1="2046.5" x2="125.33" y2="2046.5" stroke="#000" stroke-width="1.04"/>
<line x1="1683" y1="2046.5" x2="1674.67" y2="2046.5" stroke="#000" stroke-width="1.04"/>
<text x="76.46" y="2051" font-size="17.5" textLength="31.16" lengthAdjust="spacingAndGlyphs">250</text>
<line x1="117" y1="2021.5" x2="125.33" y2="2021.5" stroke="#000" stroke-width="1.04"/>
<line x1="1683" y1="2021.5" x2="1674.67" y2="2021.5" stroke="#000" stroke-width="1.04"/>
<text x="76.75" y="2026.33" font-size="17.5" textLength="30.87" lengthAdjust="spacingAndGlyphs">300</text>
<line x1="117" y1="1997.5" x2="125.33" y2="1997.5" stroke="#000" stroke-width="1.04"/>
<line x1="1683" y1="1997.5" x2="1674.67" y2="1997.5" stroke="#000" stroke-width="1.04"/>
<text x="76.75" y="2001.67" font-size="17.5" textLength="30.87" lengthAdjust="spacingAndGlyphs">350</text>
<line x1="117" y1="1972.5" x2="125.33" y2="1972.5" stroke="#000" stroke-width="1.04"/>
<line x1="1683" y1="1972.5" x2="1674.67" y2="1972.5" stroke="#000" stroke-width="1.04"/>
<text x="76.57" y="1977" font-size="17.5" textLength="31.05" lengthAdjust="spacingAndGlyphs">400</text>
<text x="712.19" y="1961.5" font-size="24.5" textLength="375.56" lengthAdjust="spacingAndGlyphs">Solar Wind Velocity (RTN Frame)</text>
<g transform="translate(58.32 2083) rotate(-90)"><text x="-43.41" y="0" font-size="17.5" textLength="86.59" lengthAdjust="spacingAndGlyphs">Vsw(km/s)</text></g>
<rect x="1604" y="1979" width="72" height="72" fill="#fff" stroke="#000" stroke-width="2"/>
<line x1="1613.1" y1="1991.3" x2="1635" y2="1991.3" stroke="#ff0000" stroke-width="2"/>
<text x="1651.34" y="1996.8" font-size="15.75" textLength="16.68" lengthAdjust="spacingAndGlyphs">Vr</text>
<line x1="1613.1" y1="2013.9" x2="1635" y2="2013.9" stroke="#008000" stroke-width="2"/>
<text x="1651.34" y="2019.4" font-size="15.75" textLength="15.86" lengthAdjust="spacingAndGlyphs">Vt</text>
<line x1="1613.1" y1="2036.4" x2="1635" y2="2036.4" stroke="#0000ff" stroke-width="2"/>
<text x="1651.35" y="2041.9" font-size="15.75" textLength="19.48" lengthAdjust="spacingAndGlyphs">Vn</text>
<polyline points="117,2341.3 221.4,2346.9 325.8,2383.4 430.2,2398.8 534.6,2380 639,2308.8 743.4,2452.3 847.8,2398.2 952.2,2405 1056.6,2402.1 1161,2439.4 1265.4,2421.9 1369.8,2425.4 1474.2,2475 1578.6,2502.4 1683,2421.3" fill="none" stroke="#0000ff" stroke-width="2" stroke-linejoin="round" clip-path="url(#c10)"/>
<rect x="117" y="2306" width="1566" height="222" fill="none" stroke="#000" stroke-width="2"/>
<line x1="117.5" y1="2528" x2="117.5" y2="2519.67" stroke="#000" stroke-width="1.04"/>
<line x1="117.5" y1="2306" x2="117.5" y2="2314.33" stroke="#000" stroke-width="1.04"/>
<text x="52.65" y="2551" font-size="17.5" textLength="127.55" lengthAdjust="spacingAndGlyphs">03/25 21:40:48</text>
<line x1="639.5" y1="2528" x2="639.5" y2="2519.67" stroke="#000" stroke-width="1.04"/>
<line x1="639.5" y1="2306" x2="639.5" y2="2314.33" stroke="#000" stroke-width="1.04"/>
<text x="574.65" y="2551" font-size="17.5" textLength="127.36" lengthAdjust="spacingAndGlyphs">03/25 21:40:53</text>
<line x1="1161.5" y1="2528" x2="1161.5" y2="2519.67" stroke="#000" stroke-width="1.04"/>
<line x1="1161.5" y1="2306" x2="1161.5" y2="2314.33" stroke="#000" stroke-width="1.04"/>
<text x="1096.65" y="2551" font-size="17.5" textLength="127.55" lengthAdjust="spacingAndGlyphs">03/25 21:40:58</text>
<line x1="1683.5" y1="2528" x2="1683.5" y2="2519.67" stroke="#000" stroke-width="1.04"/>
<line x1="1683.5" y1="2306" x2="1683.5" y2="2314.33" stroke="#000" stroke-width="1.04"/>
<text x="1618.65" y="2551" font-size="17.5" textLength="127.36" lengthAdjust="spacingAndGlyphs">03/25 21:41:03</text>
<line x1="117" y1="2528.5" x2="125.33" y2="2528.5" stroke="#000" stroke-width="1.04"/>
<line x1="1683" y1="2528.5" x2="1674.67" y2="2528.5" stroke="#000" stroke-width="1.04"/>
<text x="60.65" y="2533" font-size="17.5" textLength="46.68" lengthAdjust="spacingAndGlyphs">0.065</text>
<line x1="117" y1="2500.5" x2="125.33" y2="2500.5" stroke="#000" stroke-width="1.04"/>
<line x1="1683" y1="2500.5" x2="1674.67" y2="2500.5" stroke="#000" stroke-width="1.04"/>
<text x="60.64" y="2505.25" font-size="17.5" textLength="46.99" lengthAdjust="spacingAndGlyphs">0.070</text>
<line x1="117" y1="2473.5" x2="125.33" y2="2473.5" stroke="#000" stroke-width="1.04"/>
<line x1="1683" y1="2473.5" x2="1674.67" y2="2473.5" stroke="#000" stroke-width="1.04"/>
<text x="60.65" y="2477.5" font-size="17.5" textLength="46.68" lengthAdjust="spacingAndGlyphs">0.075</text>
<line x1="117" y1="2445.5" x2="125.33" y2="2445.5" stroke="#000" stroke-width="1.04"/>
<line x1="1683" y1="2445.5" x2="1674.67" y2="2445.5" stroke="#000" stroke-width="1.04"/>
<text x="60.64" y="2449.75" font-size="17.5" textLength="46.99" lengthAdjust="spacingAndGlyphs">0.080</text>
<line x1="117" y1="2417.5" x2="125.33" y2="2417.5" stroke="#000" stroke-width="1.04"/>
<line x1="1683" y1="2417.5" x2="1674.67" y2="2417.5" stroke="#000" stroke-width="1.04"/>
<text x="60.65" y="2422" font-size="17.5" textLength="46.68" lengthAdjust="spacingAndGlyphs">0.085</text>
<line x1="117" y1="2389.5" x2="125.33" y2="2389.5" stroke="#000" stroke-width="1.04"/>
<line x1="1683" y1="2389.5" x2="1674.67" y2="2389.5" stroke="#000" stroke-width="1.04"/>
<text x="60.64" y="2394.25" font-size="17.5" textLength="46.99" lengthAdjust="spacingAndGlyphs">0.090</text>
<line x1="117" y1="2362.5" x2="125.33" y2="2362.5" stroke="#000" stroke-width="1.04"/>
<line x1="1683" y1="2362.5" x2="1674.67" y2="2362.5" stroke="#000" stroke-width="1.04"/>
<text x="60.65" y="2366.5" font-size="17.5" textLength="46.68" lengthAdjust="spacingAndGlyphs">0.095</text>
<line x1="117" y1="2334.5" x2="125.33" y2="2334.5" stroke="#000" stroke-width="1.04"/>
<line x1="1683" y1="2334.5" x2="1674.67" y2="2334.5" stroke="#000" stroke-width="1.04"/>
<text x="60.64" y="2338.75" font-size="17.5" textLength="46.99" lengthAdjust="spacingAndGlyphs">0.100</text>
<line x1="117" y1="2306.5" x2="125.33" y2="2306.5" stroke="#000" stroke-width="1.04"/>
<line x1="1683" y1="2306.5" x2="1674.67" y2="2306.5" stroke="#000" stroke-width="1.04"/>
<text x="60.65" y="2311" font-size="17.5" textLength="46.68" lengthAdjust="spacingAndGlyphs">0.105</text>
<text x="827.6" y="2295.5" font-size="24.5" textLength="142.91" lengthAdjust="spacingAndGlyphs">Plasma Beta</text>
<g transform="translate(42.8 2417) rotate(-90)"><text x="-7.3" y="0" font-size="15.5" textLength="9.23" lengthAdjust="spacingAndGlyphs" font-family="Liberation Serif" font-style="italic">β</text><text x="2.02" y="2.1" font-size="11" textLength="5.3" lengthAdjust="spacingAndGlyphs" font-family="Liberation Serif" font-style="italic">p</text></g>
<polyline points="117,2693.3 221.4,2696.8 325.8,2774.2 430.2,2739.5 534.6,2714.4 639,2670.6 743.4,2771.9 847.8,2731.5 952.2,2740.6 1056.6,2749.9 1161,2774.4 1265.4,2748.7 1369.8,2760.4 1474.2,2811.2 1578.6,2825.8 1683,2769.7" fill="none" stroke="#0000ff" stroke-width="2" stroke-linejoin="round" clip-path="url(#c11)"/>
<rect x="117" y="2639" width="1566" height="222" fill="none" stroke="#000" stroke-width="2"/>
<line x1="117.5" y1="2861" x2="117.5" y2="2852.67" stroke="#000" stroke-width="1.04"/>
<line x1="117.5" y1="2639" x2="117.5" y2="2647.33" stroke="#000" stroke-width="1.04"/>
<text x="52.65" y="2884" font-size="17.5" textLength="127.55" lengthAdjust="spacingAndGlyphs">03/25 21:40:48</text>
<line x1="639.5" y1="2861" x2="639.5" y2="2852.67" stroke="#000" stroke-width="1.04"/>
<line x1="639.5" y1="2639" x2="639.5" y2="2647.33" stroke="#000" stroke-width="1.04"/>
<text x="574.65" y="2884" font-size="17.5" textLength="127.36" lengthAdjust="spacingAndGlyphs">03/25 21:40:53</text>
<line x1="1161.5" y1="2861" x2="1161.5" y2="2852.67" stroke="#000" stroke-width="1.04"/>
<line x1="1161.5" y1="2639" x2="1161.5" y2="2647.33" stroke="#000" stroke-width="1.04"/>
<text x="1096.65" y="2884" font-size="17.5" textLength="127.55" lengthAdjust="spacingAndGlyphs">03/25 21:40:58</text>
<line x1="1683.5" y1="2861" x2="1683.5" y2="2852.67" stroke="#000" stroke-width="1.04"/>
<line x1="1683.5" y1="2639" x2="1683.5" y2="2647.33" stroke="#000" stroke-width="1.04"/>
<text x="1618.65" y="2884" font-size="17.5" textLength="127.36" lengthAdjust="spacingAndGlyphs">03/25 21:41:03</text>
<line x1="117" y1="2861.5" x2="125.33" y2="2861.5" stroke="#000" stroke-width="1.04"/>
<line x1="1683" y1="2861.5" x2="1674.67" y2="2861.5" stroke="#000" stroke-width="1.04"/>
<text x="76.52" y="2866" font-size="17.5" textLength="31.12" lengthAdjust="spacingAndGlyphs">110</text>
<line x1="117" y1="2824.5" x2="125.33" y2="2824.5" stroke="#000" stroke-width="1.04"/>
<line x1="1683" y1="2824.5" x2="1674.67" y2="2824.5" stroke="#000" stroke-width="1.04"/>
<text x="76.6" y="2829" font-size="17.5" textLength="31.03" lengthAdjust="spacingAndGlyphs">120</text>
<line x1="117" y1="2787.5" x2="125.33" y2="2787.5" stroke="#000" stroke-width="1.04"/>
<line x1="1683" y1="2787.5" x2="1674.67" y2="2787.5" stroke="#000" stroke-width="1.04"/>
<text x="76.6" y="2792" font-size="17.5" textLength="31.03" lengthAdjust="spacingAndGlyphs">130</text>
<line x1="117" y1="2750.5" x2="125.33" y2="2750.5" stroke="#000" stroke-width="1.04"/>
<line x1="1683" y1="2750.5" x2="1674.67" y2="2750.5" stroke="#000" stroke-width="1.04"/>
<text x="76.6" y="2755" font-size="17.5" textLength="31.03" lengthAdjust="spacingAndGlyphs">140</text>
<line x1="117" y1="2713.5" x2="125.33" y2="2713.5" stroke="#000" stroke-width="1.04"/>
<line x1="1683" y1="2713.5" x2="1674.67" y2="2713.5" stroke="#000" stroke-width="1.04"/>
<text x="76.6" y="2718" font-size="17.5" textLength="31.03" lengthAdjust="spacingAndGlyphs">150</text>
<line x1="117" y1="2676.5" x2="125.33" y2="2676.5" stroke="#000" stroke-width="1.04"/>
<line x1="1683" y1="2676.5" x2="1674.67" y2="2676.5" stroke="#000" stroke-width="1.04"/>
<text x="76.6" y="2681" font-size="17.5" textLength="31.03" lengthAdjust="spacingAndGlyphs">160</text>
<line x1="117" y1="2639.5" x2="125.33" y2="2639.5" stroke="#000" stroke-width="1.04"/>
<line x1="1683" y1="2639.5" x2="1674.67" y2="2639.5" stroke="#000" stroke-width="1.04"/>
<text x="76.6" y="2644" font-size="17.5" textLength="31.03" lengthAdjust="spacingAndGlyphs">170</text>
<text x="763.91" y="2628.5" font-size="24.5" textLength="271.66" lengthAdjust="spacingAndGlyphs">Proton Number Density</text>
<g transform="translate(61.68 2750) rotate(-90)"><text x="-36.95" y="0" font-size="17.5" textLength="73.72" lengthAdjust="spacingAndGlyphs">Np(#/cc)</text></g>
<polyline points="117,3076.7 221.4,3087 325.8,2975.9 430.2,3095 534.6,3105.2 639,3071.6 743.4,3146.8 847.8,3105.8 952.2,3087.2 1056.6,3061 1161,3104.7 1265.4,3137.4 1369.8,3114.7 1474.2,3141.5 1578.6,3177.7 1683,3136.3" fill="none" stroke="#0000ff" stroke-width="2" stroke-linejoin="round" clip-path="url(#c12)"/>
<rect x="117" y="2973" width="1566" height="222" fill="none" stroke="#000" stroke-width="2"/>
<line x1="117.5" y1="3195" x2="117.5" y2="3186.67" stroke="#000" stroke-width="1.04"/>
<line x1="117.5" y1="2973" x2="117.5" y2="2981.33" stroke="#000" stroke-width="1.04"/>
<text x="52.65" y="3218" font-size="17.5" textLength="127.55" lengthAdjust="spacingAndGlyphs">03/25 21:40:48</text>
<line x1="639.5" y1="3195" x2="639.5" y2="3186.67" stroke="#000" stroke-width="1.04"/>
<line x1="639.5" y1="2973" x2="639.5" y2="2981.33" stroke="#000" stroke-width="1.04"/>
<text x="574.65" y="3218" font-size="17.5" textLength="127.36" lengthAdjust="spacingAndGlyphs">03/25 21:40:53</text>
<line x1="1161.5" y1="3195" x2="1161.5" y2="3186.67" stroke="#000" stroke-width="1.04"/>
<line x1="1161.5" y1="2973" x2="1161.5" y2="2981.33" stroke="#000" stroke-width="1.04"/>
<text x="1096.65" y="3218" font-size="17.5" textLength="127.55" lengthAdjust="spacingAndGlyphs">03/25 21:40:58</text>
<line x1="1683.5" y1="3195" x2="1683.5" y2="3186.67" stroke="#000" stroke-width="1.04"/>
<line x1="1683.5" y1="2973" x2="1683.5" y2="2981.33" stroke="#000" stroke-width="1.04"/>
<text x="1618.65" y="3218" font-size="17.5" textLength="127.36" lengthAdjust="spacingAndGlyphs">03/25 21:41:03</text>
<line x1="117" y1="3195.5" x2="125.33" y2="3195.5" stroke="#000" stroke-width="1.04"/>
<line x1="1683" y1="3195.5" x2="1674.67" y2="3195.5" stroke="#000" stroke-width="1.04"/>
<text x="60.64" y="3200" font-size="17.5" textLength="46.99" lengthAdjust="spacingAndGlyphs">0.090</text>
<line x1="117" y1="3167.5" x2="125.33" y2="3167.5" stroke="#000" stroke-width="1.04"/>
<line x1="1683" y1="3167.5" x2="1674.67" y2="3167.5" stroke="#000" stroke-width="1.04"/>
<text x="60.65" y="3172.25" font-size="17.5" textLength="46.62" lengthAdjust="spacingAndGlyphs">0.092</text>
<line x1="117" y1="3140.5" x2="125.33" y2="3140.5" stroke="#000" stroke-width="1.04"/>
<line x1="1683" y1="3140.5" x2="1674.67" y2="3140.5" stroke="#000" stroke-width="1.04"/>
<text x="60.64" y="3144.5" font-size="17.5" textLength="46.97" lengthAdjust="spacingAndGlyphs">0.094</text>
<line x1="117" y1="3112.5" x2="125.33" y2="3112.5" stroke="#000" stroke-width="1.04"/>
<line x1="1683" y1="3112.5" x2="1674.67" y2="3112.5" stroke="#000" stroke-width="1.04"/>
<text x="60.64" y="3116.75" font-size="17.5" textLength="47.14" lengthAdjust="spacingAndGlyphs">0.096</text>
<line x1="117" y1="3084.5" x2="125.33" y2="3084.5" stroke="#000" stroke-width="1.04"/>
<line x1="1683" y1="3084.5" x2="1674.67" y2="3084.5" stroke="#000" stroke-width="1.04"/>
<text x="60.64" y="3089" font-size="17.5" textLength="47.04" lengthAdjust="spacingAndGlyphs">0.098</text>
<line x1="117" y1="3056.5" x2="125.33" y2="3056.5" stroke="#000" stroke-width="1.04"/>
<line x1="1683" y1="3056.5" x2="1674.67" y2="3056.5" stroke="#000" stroke-width="1.04"/>
<text x="60.64" y="3061.25" font-size="17.5" textLength="46.99" lengthAdjust="spacingAndGlyphs">0.100</text>
<line x1="117" y1="3029.5" x2="125.33" y2="3029.5" stroke="#000" stroke-width="1.04"/>
<line x1="1683" y1="3029.5" x2="1674.67" y2="3029.5" stroke="#000" stroke-width="1.04"/>
<text x="60.65" y="3033.5" font-size="17.5" textLength="46.62" lengthAdjust="spacingAndGlyphs">0.102</text>
<line x1="117" y1="3001.5" x2="125.33" y2="3001.5" stroke="#000" stroke-width="1.04"/>
<line x1="1683" y1="3001.5" x2="1674.67" y2="3001.5" stroke="#000" stroke-width="1.04"/>
<text x="60.64" y="3005.75" font-size="17.5" textLength="46.97" lengthAdjust="spacingAndGlyphs">0.104</text>
<line x1="117" y1="2973.5" x2="125.33" y2="2973.5" stroke="#000" stroke-width="1.04"/>
<line x1="1683" y1="2973.5" x2="1674.67" y2="2973.5" stroke="#000" stroke-width="1.04"/>
<text x="60.64" y="2978" font-size="17.5" textLength="47.14" lengthAdjust="spacingAndGlyphs">0.106</text>
<rect x="124" y="2980" width="70" height="27" fill="#fff" stroke="#000" stroke-width="2"/>
<line x1="134.2" y1="2992.5" x2="156.9" y2="2992.5" stroke="#0000ff" stroke-width="2"/>
<text x="170.79" y="2998" font-size="15.75" textLength="18.96" lengthAdjust="spacingAndGlyphs">Tp</text>
<text x="726.84" y="2962.5" font-size="24.5" textLength="283.05" lengthAdjust="spacingAndGlyphs">Proton Temperature and</text>
<text x="1014.07" y="2962.5" font-size="23" textLength="15.58" lengthAdjust="spacingAndGlyphs" font-family="Liberation Serif" font-style="italic">T</text>
<text x="1027.99" y="2965.8" font-size="16" textLength="10.23" lengthAdjust="spacingAndGlyphs" font-family="Liberation Serif" font-style="italic">e</text>
<text x="1040.3" y="2963.7" font-size="23" textLength="7.7" lengthAdjust="spacingAndGlyphs" font-family="Liberation Serif">/</text>
<text x="1046.02" y="2962.5" font-size="23" textLength="16.79" lengthAdjust="spacingAndGlyphs" font-family="Liberation Serif" font-style="italic">T</text>
<text x="1063" y="2965.8" font-size="16" textLength="8.52" lengthAdjust="spacingAndGlyphs" font-family="Liberation Serif" font-style="italic">p</text>
<g transform="translate(42.6 3122.2) rotate(-90)"><text x="-0.43" y="0" font-size="17.5" textLength="28.74" lengthAdjust="spacingAndGlyphs">Tp(</text><text x="30.16" y="0" font-size="17" textLength="16.36" lengthAdjust="spacingAndGlyphs" font-family="Liberation Serif">10</text><text x="47.07" y="-5.9" font-size="12" textLength="6.2" lengthAdjust="spacingAndGlyphs" font-family="Liberation Serif">6</text><text x="54.73" y="0" font-size="17.5" textLength="16.71" lengthAdjust="spacingAndGlyphs">K)</text></g></svg></body></html>
